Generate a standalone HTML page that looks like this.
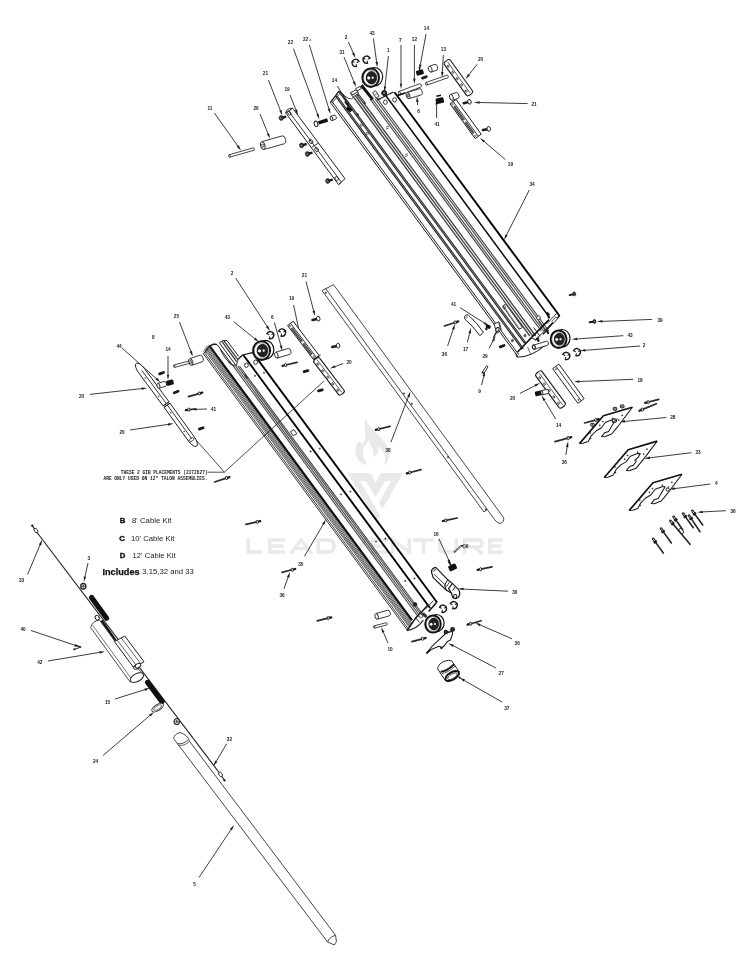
<!DOCTYPE html>
<html><head><meta charset="utf-8"><title>Parts Diagram</title>
<style>
html,body{margin:0;padding:0;background:#fff;}
body{width:750px;height:971px;overflow:hidden;font-family:"Liberation Sans",sans-serif;}
svg{display:block;will-change:transform;font-family:"Liberation Sans",sans-serif;}
</style></head><body>
<svg width="750" height="971" viewBox="0 0 750 971">
<rect width="750" height="971" fill="#fff"/>
<path d="M248.2,538.3 V552.0 H261.5" fill="none" stroke="#e9e9e9" stroke-width="3.4" stroke-linejoin="miter"/>
<path d="M285,540.0 H269.7 V552.0 H285 M269.7,546.0 H283.5" fill="none" stroke="#e9e9e9" stroke-width="3.4" stroke-linejoin="miter"/>
<path d="M290.5,553.7 L301.2,540.0 L312,553.7 M294.5,548.5 H308" fill="none" stroke="#e9e9e9" stroke-width="3.4" stroke-linejoin="miter"/>
<path d="M318.2,540.0 H328 Q334,540.0 334,546.0 Q334,552.0 328,552.0 H318.2 Z" fill="none" stroke="#e9e9e9" stroke-width="3.4" stroke-linejoin="miter"/>
<path d="M345,538.3 L356,552.0 L367,538.3" fill="none" stroke="#e9e9e9" stroke-width="3.4" stroke-linejoin="miter"/>
<path d="M388,540.0 H372.7 V552.0 H388 M372.7,546.0 H386.5" fill="none" stroke="#e9e9e9" stroke-width="3.4" stroke-linejoin="miter"/>
<path d="M392.7,553.7 V540.0 L409.3,552.0 V538.3" fill="none" stroke="#e9e9e9" stroke-width="3.4" stroke-linejoin="miter"/>
<path d="M413,540.0 H434 M423.5,540.0 V553.7" fill="none" stroke="#e9e9e9" stroke-width="3.4" stroke-linejoin="miter"/>
<path d="M439.7,538.3 V548.0 Q439.7,552.0 444,552.0 H452 Q456.3,552.0 456.3,548.0 V538.3" fill="none" stroke="#e9e9e9" stroke-width="3.4" stroke-linejoin="miter"/>
<path d="M464.7,553.7 V540.0 H477 Q482,540.0 482,543.5 Q482,547.0 477,547.0 H464.7 M474,547.0 L482.5,553.7" fill="none" stroke="#e9e9e9" stroke-width="3.4" stroke-linejoin="miter"/>
<path d="M503,540.0 H489.7 V552.0 H503 M489.7,546.0 H501.5" fill="none" stroke="#e9e9e9" stroke-width="3.4" stroke-linejoin="miter"/>
<path d="M364.8,417.5 C368,428 380,434 386,444 C392,454 389,462 384,465 C387,458 384,450 378,446 C380,452 376,457 373,457 C375,450 370,446 369,440 C364,446 361,452 364,458 C366,462 368,464 366,465 C358,463 354,455 356,447 C358,440 361,440 362,445 C368,438 364,428 364.8,417.5 Z" fill="#e9e9e9"/>
<path d="M347.5,473 H370.5 L375.5,482.5 L381,473 H403 L382.5,509 L379,503 L391,481 H385 L375.5,497.5 L366,481 H360 L380,516 L377,521 Z" fill="#e9e9e9"/>
<line x1="331.5" y1="104.0" x2="518.1" y2="356.8" stroke="#1a1a1a" stroke-width="1.0" stroke-linecap="butt"/>
<line x1="332.0" y1="101.5" x2="518.9" y2="354.8" stroke="#222" stroke-width="1.0" stroke-linecap="butt"/>
<line x1="336.2" y1="96.0" x2="522.9" y2="349.0" stroke="#222" stroke-width="2.5" stroke-linecap="butt"/>
<line x1="337.0" y1="97.0" x2="522.2" y2="348.0" stroke="#999" stroke-width="0.8" stroke-linecap="butt"/>
<line x1="339.9" y1="92.0" x2="525.1" y2="343.0" stroke="#222" stroke-width="2.5" stroke-linecap="butt"/>
<line x1="340.6" y1="93.0" x2="524.4" y2="342.0" stroke="#999" stroke-width="0.8" stroke-linecap="butt"/>
<path d="M330.3,103.5 L338.8,91.0 L341.5,92.5" stroke="#222" stroke-width="1.0" fill="none" stroke-linejoin="round"/>
<line x1="350.6" y1="93.0" x2="529.9" y2="336.0" stroke="#444" stroke-width="1.3" stroke-linecap="butt"/>
<line x1="353.5" y1="93.0" x2="532.8" y2="336.0" stroke="#444" stroke-width="1.3" stroke-linecap="butt"/>
<line x1="356.4" y1="93.0" x2="535.7" y2="336.0" stroke="#444" stroke-width="1.3" stroke-linecap="butt"/>
<line x1="370.0" y1="99.0" x2="541.3" y2="331.0" stroke="#444" stroke-width="1.15" stroke-linecap="butt"/>
<line x1="372.3" y1="99.0" x2="543.6" y2="331.0" stroke="#444" stroke-width="1.15" stroke-linecap="butt"/>
<line x1="375.2" y1="99.0" x2="546.5" y2="331.0" stroke="#444" stroke-width="1.15" stroke-linecap="butt"/>
<line x1="377.5" y1="99.0" x2="548.8" y2="331.0" stroke="#444" stroke-width="1.15" stroke-linecap="butt"/>
<line x1="385.7" y1="95.5" x2="549.9" y2="318.0" stroke="#0a0a0a" stroke-width="1.5" stroke-linecap="butt"/>
<line x1="394.5" y1="92.3" x2="559.6" y2="316.0" stroke="#000" stroke-width="1.9" stroke-linecap="butt"/>
<line x1="377.0" y1="100.0" x2="393.5" y2="92.0" stroke="#111" stroke-width="1.1" stroke-linecap="butt"/>
<ellipse cx="385.4" cy="102.2" rx="1.9" ry="2.2" transform="rotate(0 385.4 102.2)" stroke="#222" stroke-width="0.9" fill="none"/>
<ellipse cx="394.6" cy="99.8" rx="1.9" ry="2.2" transform="rotate(0 394.6 99.8)" stroke="#222" stroke-width="0.9" fill="none"/>
<line x1="386.0" y1="127.2" x2="389.0" y2="126.2" stroke="#333" stroke-width="0.7" stroke-linecap="butt"/>
<line x1="386.0" y1="129.0" x2="389.0" y2="128.0" stroke="#333" stroke-width="0.7" stroke-linecap="butt"/>
<line x1="405.0" y1="154.7" x2="408.0" y2="153.7" stroke="#333" stroke-width="0.7" stroke-linecap="butt"/>
<line x1="405.0" y1="156.5" x2="408.0" y2="155.5" stroke="#333" stroke-width="0.7" stroke-linecap="butt"/>
<line x1="202.8" y1="353.0" x2="407.7" y2="630.6" stroke="#222" stroke-width="0.9" stroke-linecap="butt"/>
<line x1="203.5" y1="351.4" x2="408.7" y2="629.4" stroke="#222" stroke-width="0.9" stroke-linecap="butt"/>
<line x1="204.2" y1="349.4" x2="409.7" y2="627.8" stroke="#2a2a2a" stroke-width="0.8" stroke-linecap="butt"/>
<line x1="205.0" y1="348.5" x2="410.2" y2="626.6" stroke="#2a2a2a" stroke-width="0.8" stroke-linecap="butt"/>
<line x1="205.7" y1="347.6" x2="410.7" y2="625.4" stroke="#2a2a2a" stroke-width="0.8" stroke-linecap="butt"/>
<line x1="206.4" y1="346.7" x2="411.2" y2="624.2" stroke="#2a2a2a" stroke-width="0.8" stroke-linecap="butt"/>
<line x1="207.2" y1="345.8" x2="411.8" y2="623.0" stroke="#2a2a2a" stroke-width="0.8" stroke-linecap="butt"/>
<line x1="209.1" y1="345.4" x2="412.0" y2="620.4" stroke="#111" stroke-width="2.3" stroke-linecap="butt"/>
<line x1="233.2" y1="366.0" x2="418.4" y2="617.0" stroke="#444" stroke-width="1.1" stroke-linecap="butt"/>
<line x1="235.4" y1="366.0" x2="420.6" y2="617.0" stroke="#444" stroke-width="1.1" stroke-linecap="butt"/>
<line x1="237.6" y1="366.0" x2="422.8" y2="617.0" stroke="#444" stroke-width="1.1" stroke-linecap="butt"/>
<line x1="239.4" y1="366.0" x2="424.6" y2="617.0" stroke="#444" stroke-width="1.1" stroke-linecap="butt"/>
<line x1="243.3" y1="355.0" x2="430.0" y2="608.0" stroke="#000" stroke-width="1.9" stroke-linecap="butt"/>
<line x1="253.0" y1="353.0" x2="437.1" y2="602.5" stroke="#000" stroke-width="1.9" stroke-linecap="butt"/>
<path d="M322.1,290.6 L484,512 L487.3,509.5" stroke="#333" stroke-width="0.9" fill="none" stroke-linejoin="round"/>
<line x1="325.6" y1="288.6" x2="487.3" y2="509.5" stroke="#333" stroke-width="0.9" stroke-linecap="butt"/>
<path d="M487.3,509.5 L494.5,519.5 Q497,523 500,523.5 Q504.5,522 503.6,517.6 L333.6,284.7 L322.1,290.6" stroke="#333" stroke-width="0.9" fill="none" stroke-linejoin="round"/>
<circle cx="325.8" cy="292.8" r="0.7" stroke="#333" stroke-width="0.6" fill="#333"/>
<circle cx="411.8" cy="403.8" r="0.7" stroke="#333" stroke-width="0.6" fill="#333"/>
<circle cx="404.0" cy="393.5" r="0.7" stroke="#333" stroke-width="0.6" fill="#333"/>
<circle cx="448.0" cy="457.0" r="0.7" stroke="#333" stroke-width="0.6" fill="#333"/>
<circle cx="485.8" cy="509.5" r="0.7" stroke="#333" stroke-width="0.6" fill="#333"/>
<line x1="38.2" y1="534.0" x2="221.0" y2="775.0" stroke="#222" stroke-width="1.15" stroke-linecap="butt"/>
<line x1="32.0" y1="525.4" x2="38.2" y2="534.0" stroke="#222" stroke-width="1.2" stroke-linecap="butt"/>
<ellipse cx="36.0" cy="530.6" rx="1.6" ry="2.4" transform="rotate(-35 36.0 530.6)" stroke="#222" stroke-width="0.9" fill="#fff"/>
<circle cx="32.3" cy="525.6" r="0.9" stroke="#222" stroke-width="0.6" fill="#222"/>
<ellipse cx="83.3" cy="586.3" rx="2.5" ry="2.8" transform="rotate(0 83.3 586.3)" stroke="#222" stroke-width="1.4" fill="#fff"/>
<circle cx="83.3" cy="586.3" r="1.0" stroke="#333" stroke-width="0.6" fill="#666"/>
<line x1="91.6" y1="597.6" x2="106.6" y2="618.2" stroke="#111" stroke-width="5.2" stroke-linecap="round"/>
<ellipse cx="97.2" cy="617.8" rx="1.9" ry="2.5" transform="rotate(-30 97.2 617.8)" stroke="#222" stroke-width="1.0" fill="#fff"/>
<line x1="101.5" y1="620.5" x2="115.5" y2="640.5" stroke="#111" stroke-width="2.6" stroke-linecap="butt"/>
<path d="M99.5,620.2 Q93,620.5 90.6,627.5 L130.6,682.6" stroke="#333" stroke-width="0.9" fill="none" stroke-linejoin="round"/>
<line x1="92.6" y1="625.2" x2="132.6" y2="680.4" stroke="#555" stroke-width="0.8" stroke-linecap="butt"/>
<path d="M99.5,620.2 L116,642" stroke="#333" stroke-width="0.9" fill="none" stroke-linejoin="round"/>
<ellipse cx="137.0" cy="677.6" rx="7.2" ry="3.9" transform="rotate(-28 137.0 677.6)" stroke="#222" stroke-width="1.0" fill="#fff"/>
<line x1="124.0" y1="655.0" x2="142.4" y2="673.2" stroke="#333" stroke-width="0.9" stroke-linecap="butt"/>
<path d="M114.4,641.6 L124.8,636.0 L144.0,661.8 L133.6,667.4 Z" stroke="#222" stroke-width="1.0" fill="#fff" stroke-linejoin="round"/>
<line x1="117.2" y1="640.0" x2="136.6" y2="665.8" stroke="#444" stroke-width="0.8" stroke-linecap="butt"/>
<line x1="121.2" y1="637.8" x2="140.6" y2="663.6" stroke="#444" stroke-width="0.8" stroke-linecap="butt"/>
<ellipse cx="136.6" cy="667.0" rx="3.0" ry="2.0" transform="rotate(-28 136.6 667.0)" stroke="#222" stroke-width="0.9" fill="#fff"/>
<ellipse cx="138.0" cy="665.6" rx="3.0" ry="2.0" transform="rotate(-28 138.0 665.6)" stroke="#222" stroke-width="0.9" fill="#fff"/>
<line x1="147.6" y1="682.4" x2="162.0" y2="701.6" stroke="#111" stroke-width="5.2" stroke-linecap="round"/>
<ellipse cx="157.6" cy="707.6" rx="6.6" ry="3.0" transform="rotate(-32 157.6 707.6)" stroke="#222" stroke-width="0.9" fill="#fff"/>
<ellipse cx="157.6" cy="707.6" rx="4.6" ry="1.7" transform="rotate(-32 157.6 707.6)" stroke="#444" stroke-width="0.7" fill="none"/>
<ellipse cx="176.8" cy="721.6" rx="2.6" ry="3.0" transform="rotate(0 176.8 721.6)" stroke="#333" stroke-width="1.3" fill="#fff"/>
<circle cx="176.8" cy="721.6" r="1.0" stroke="#333" stroke-width="0.8" fill="#666"/>
<ellipse cx="220.6" cy="774.4" rx="1.6" ry="2.4" transform="rotate(-35 220.6 774.4)" stroke="#222" stroke-width="0.9" fill="#fff"/>
<line x1="221.5" y1="776.0" x2="224.3" y2="780.0" stroke="#222" stroke-width="1.2" stroke-linecap="butt"/>
<circle cx="224.5" cy="780.3" r="0.9" stroke="#222" stroke-width="0.6" fill="#222"/>
<path d="M173.6,738.6 Q174.5,733.5 180.2,732.6 Q187.5,734.5 189.6,741.4" stroke="#333" stroke-width="0.9" fill="none" stroke-linejoin="round"/>
<line x1="173.6" y1="738.6" x2="327.6" y2="942.0" stroke="#333" stroke-width="0.9" stroke-linecap="butt"/>
<line x1="189.6" y1="741.4" x2="335.6" y2="935.4" stroke="#333" stroke-width="0.9" stroke-linecap="butt"/>
<path d="M177.2,743.6 Q183,744.8 188.4,739.6" stroke="#333" stroke-width="0.9" fill="none" stroke-linejoin="round"/>
<path d="M178.4,745.2 Q184.2,746.4 189.6,741.4" stroke="#555" stroke-width="0.9" fill="none" stroke-linejoin="round"/>
<path d="M327.6,942.0 Q329.5,936.5 335.6,935.4 L336.4,941.6 L334.4,945.0 Z" stroke="#333" stroke-width="0.9" fill="none" stroke-linejoin="round"/>
<line x1="214.4" y1="113.0" x2="237.8" y2="146.0" stroke="#1a1a1a" stroke-width="0.85" stroke-linecap="butt"/>
<polygon points="241.0,150.6 236.7,146.8 238.8,145.3" fill="#1a1a1a"/>
<text x="0" y="0" transform="translate(210.0,110.0) scale(0.8,1)" font-size="5.9" fill="#1a1a1a" text-anchor="middle" font-weight="bold">11</text>
<line x1="260.0" y1="114.0" x2="267.9" y2="133.4" stroke="#1a1a1a" stroke-width="0.85" stroke-linecap="butt"/>
<polygon points="270.0,138.6 266.7,133.9 269.0,132.9" fill="#1a1a1a"/>
<text x="0" y="0" transform="translate(256.0,110.0) scale(0.8,1)" font-size="5.9" fill="#1a1a1a" text-anchor="middle" font-weight="bold">26</text>
<line x1="268.4" y1="80.0" x2="280.4" y2="110.4" stroke="#1a1a1a" stroke-width="0.85" stroke-linecap="butt"/>
<polygon points="282.4,115.6 279.2,110.8 281.5,109.9" fill="#1a1a1a"/>
<text x="0" y="0" transform="translate(265.4,75.4) scale(0.8,1)" font-size="5.9" fill="#1a1a1a" text-anchor="middle" font-weight="bold">21</text>
<line x1="290.0" y1="95.0" x2="295.9" y2="109.8" stroke="#1a1a1a" stroke-width="0.85" stroke-linecap="butt"/>
<polygon points="298.0,115.0 294.8,110.3 297.1,109.3" fill="#1a1a1a"/>
<text x="0" y="0" transform="translate(287.0,90.8) scale(0.8,1)" font-size="5.9" fill="#1a1a1a" text-anchor="middle" font-weight="bold">19</text>
<line x1="293.4" y1="48.6" x2="317.5" y2="114.1" stroke="#1a1a1a" stroke-width="0.85" stroke-linecap="butt"/>
<polygon points="319.4,119.4 316.3,114.6 318.6,113.7" fill="#1a1a1a"/>
<text x="0" y="0" transform="translate(290.4,44.4) scale(0.8,1)" font-size="5.9" fill="#1a1a1a" text-anchor="middle" font-weight="bold">22</text>
<line x1="309.4" y1="45.0" x2="328.8" y2="108.6" stroke="#1a1a1a" stroke-width="0.85" stroke-linecap="butt"/>
<polygon points="330.4,114.0 327.6,109.0 330.0,108.3" fill="#1a1a1a"/>
<text x="0" y="0" transform="translate(307.0,41.4) scale(0.8,1)" font-size="5.9" fill="#1a1a1a" text-anchor="middle" font-weight="bold">22<tspan font-size="4.4" font-weight="normal"> a</tspan></text>
<line x1="348.4" y1="42.0" x2="353.2" y2="52.9" stroke="#1a1a1a" stroke-width="0.85" stroke-linecap="butt"/>
<polygon points="355.4,58.0 352.0,53.4 354.3,52.4" fill="#1a1a1a"/>
<text x="0" y="0" transform="translate(346.0,39.4) scale(0.8,1)" font-size="5.9" fill="#1a1a1a" text-anchor="middle" font-weight="bold">2</text>
<line x1="373.4" y1="38.4" x2="376.6" y2="61.9" stroke="#1a1a1a" stroke-width="0.85" stroke-linecap="butt"/>
<polygon points="377.4,67.4 375.4,62.0 377.9,61.7" fill="#1a1a1a"/>
<text x="0" y="0" transform="translate(372.0,34.8) scale(0.8,1)" font-size="5.9" fill="#1a1a1a" text-anchor="middle" font-weight="bold">43</text>
<line x1="344.0" y1="57.0" x2="353.9" y2="81.8" stroke="#1a1a1a" stroke-width="0.85" stroke-linecap="butt"/>
<polygon points="356.0,87.0 352.8,82.3 355.1,81.3" fill="#1a1a1a"/>
<text x="0" y="0" transform="translate(342.0,53.8) scale(0.8,1)" font-size="5.9" fill="#1a1a1a" text-anchor="middle" font-weight="bold">31</text>
<line x1="337.4" y1="86.0" x2="347.2" y2="103.1" stroke="#1a1a1a" stroke-width="0.85" stroke-linecap="butt"/>
<polygon points="350.0,108.0 346.1,103.8 348.3,102.5" fill="#1a1a1a"/>
<text x="0" y="0" transform="translate(334.4,82.0) scale(0.8,1)" font-size="5.9" fill="#1a1a1a" text-anchor="middle" font-weight="bold">14</text>
<line x1="388.4" y1="56.0" x2="385.0" y2="86.4" stroke="#1a1a1a" stroke-width="0.85" stroke-linecap="butt"/>
<polygon points="384.4,92.0 383.8,86.3 386.3,86.6" fill="#1a1a1a"/>
<text x="0" y="0" transform="translate(388.4,52.4) scale(0.8,1)" font-size="5.9" fill="#1a1a1a" text-anchor="middle" font-weight="bold">1</text>
<line x1="401.0" y1="45.0" x2="401.0" y2="83.4" stroke="#1a1a1a" stroke-width="0.85" stroke-linecap="butt"/>
<polygon points="401.0,89.0 399.8,83.4 402.2,83.4" fill="#1a1a1a"/>
<text x="0" y="0" transform="translate(400.4,41.8) scale(0.8,1)" font-size="5.9" fill="#1a1a1a" text-anchor="middle" font-weight="bold">7</text>
<line x1="414.4" y1="45.0" x2="414.4" y2="78.4" stroke="#1a1a1a" stroke-width="0.85" stroke-linecap="butt"/>
<polygon points="414.4,84.0 413.1,78.4 415.6,78.4" fill="#1a1a1a"/>
<text x="0" y="0" transform="translate(414.4,40.8) scale(0.8,1)" font-size="5.9" fill="#1a1a1a" text-anchor="middle" font-weight="bold">12</text>
<line x1="426.0" y1="34.0" x2="420.4" y2="64.5" stroke="#1a1a1a" stroke-width="0.85" stroke-linecap="butt"/>
<polygon points="419.4,70.0 419.2,64.3 421.6,64.7" fill="#1a1a1a"/>
<text x="0" y="0" transform="translate(426.4,29.8) scale(0.8,1)" font-size="5.9" fill="#1a1a1a" text-anchor="middle" font-weight="bold">14</text>
<line x1="443.4" y1="55.0" x2="442.3" y2="71.8" stroke="#1a1a1a" stroke-width="0.85" stroke-linecap="butt"/>
<polygon points="442.0,77.4 441.1,71.7 443.6,71.9" fill="#1a1a1a"/>
<text x="0" y="0" transform="translate(443.4,50.8) scale(0.8,1)" font-size="5.9" fill="#1a1a1a" text-anchor="middle" font-weight="bold">13</text>
<line x1="477.0" y1="64.4" x2="469.0" y2="74.6" stroke="#1a1a1a" stroke-width="0.85" stroke-linecap="butt"/>
<polygon points="465.6,79.0 468.1,73.8 470.0,75.4" fill="#1a1a1a"/>
<text x="0" y="0" transform="translate(480.6,60.8) scale(0.8,1)" font-size="5.9" fill="#1a1a1a" text-anchor="middle" font-weight="bold">20</text>
<line x1="417.6" y1="105.0" x2="417.4" y2="102.0" stroke="#1a1a1a" stroke-width="0.85" stroke-linecap="butt"/>
<polygon points="417.0,96.4 418.6,101.9 416.1,102.1" fill="#1a1a1a"/>
<text x="0" y="0" transform="translate(418.6,112.8) scale(0.8,1)" font-size="5.9" fill="#1a1a1a" text-anchor="middle" font-weight="bold">6</text>
<line x1="436.6" y1="118.0" x2="436.6" y2="104.6" stroke="#1a1a1a" stroke-width="0.85" stroke-linecap="butt"/>
<polygon points="436.6,99.0 437.9,104.6 435.4,104.6" fill="#1a1a1a"/>
<text x="0" y="0" transform="translate(437.0,125.8) scale(0.8,1)" font-size="5.9" fill="#1a1a1a" text-anchor="middle" font-weight="bold">41</text>
<line x1="527.6" y1="103.6" x2="479.6" y2="102.5" stroke="#1a1a1a" stroke-width="0.85" stroke-linecap="butt"/>
<polygon points="474.0,102.4 479.6,101.3 479.6,103.8" fill="#1a1a1a"/>
<text x="0" y="0" transform="translate(534.0,106.4) scale(0.8,1)" font-size="5.9" fill="#1a1a1a" text-anchor="middle" font-weight="bold">21</text>
<line x1="505.4" y1="159.6" x2="484.3" y2="141.6" stroke="#1a1a1a" stroke-width="0.85" stroke-linecap="butt"/>
<polygon points="480.0,138.0 485.1,140.7 483.5,142.6" fill="#1a1a1a"/>
<text x="0" y="0" transform="translate(510.4,166.4) scale(0.8,1)" font-size="5.9" fill="#1a1a1a" text-anchor="middle" font-weight="bold">19</text>
<line x1="529.3" y1="190.0" x2="506.5" y2="235.0" stroke="#1a1a1a" stroke-width="0.85" stroke-linecap="butt"/>
<polygon points="504.0,240.0 505.4,234.4 507.6,235.6" fill="#1a1a1a"/>
<text x="0" y="0" transform="translate(532.0,185.8) scale(0.8,1)" font-size="5.9" fill="#1a1a1a" text-anchor="middle" font-weight="bold">34</text>
<line x1="460.0" y1="307.6" x2="484.3" y2="323.0" stroke="#1a1a1a" stroke-width="0.85" stroke-linecap="butt"/>
<polygon points="489.0,326.0 483.6,324.1 484.9,321.9" fill="#1a1a1a"/>
<text x="0" y="0" transform="translate(453.6,306.0) scale(0.8,1)" font-size="5.9" fill="#1a1a1a" text-anchor="middle" font-weight="bold">41</text>
<line x1="447.6" y1="346.0" x2="453.2" y2="329.3" stroke="#1a1a1a" stroke-width="0.85" stroke-linecap="butt"/>
<polygon points="455.0,324.0 454.4,329.7 452.0,328.9" fill="#1a1a1a"/>
<text x="0" y="0" transform="translate(444.4,356.0) scale(0.8,1)" font-size="5.9" fill="#1a1a1a" text-anchor="middle" font-weight="bold">36</text>
<line x1="467.4" y1="342.4" x2="469.6" y2="333.4" stroke="#1a1a1a" stroke-width="0.85" stroke-linecap="butt"/>
<polygon points="471.0,328.0 470.9,333.7 468.4,333.1" fill="#1a1a1a"/>
<text x="0" y="0" transform="translate(465.6,351.4) scale(0.8,1)" font-size="5.9" fill="#1a1a1a" text-anchor="middle" font-weight="bold">17</text>
<line x1="489.0" y1="348.4" x2="493.0" y2="340.9" stroke="#1a1a1a" stroke-width="0.85" stroke-linecap="butt"/>
<polygon points="495.6,336.0 494.1,341.5 491.9,340.4" fill="#1a1a1a"/>
<text x="0" y="0" transform="translate(485.0,358.0) scale(0.8,1)" font-size="5.9" fill="#1a1a1a" text-anchor="middle" font-weight="bold">29</text>
<line x1="481.6" y1="385.0" x2="483.7" y2="376.4" stroke="#1a1a1a" stroke-width="0.85" stroke-linecap="butt"/>
<polygon points="485.0,371.0 484.9,376.7 482.5,376.1" fill="#1a1a1a"/>
<text x="0" y="0" transform="translate(479.6,393.4) scale(0.8,1)" font-size="5.9" fill="#1a1a1a" text-anchor="middle" font-weight="bold">9</text>
<line x1="520.0" y1="393.4" x2="535.0" y2="385.6" stroke="#1a1a1a" stroke-width="0.85" stroke-linecap="butt"/>
<polygon points="540.0,383.0 535.6,386.7 534.5,384.5" fill="#1a1a1a"/>
<text x="0" y="0" transform="translate(512.6,399.8) scale(0.8,1)" font-size="5.9" fill="#1a1a1a" text-anchor="middle" font-weight="bold">20</text>
<line x1="555.6" y1="419.0" x2="544.5" y2="400.4" stroke="#1a1a1a" stroke-width="0.85" stroke-linecap="butt"/>
<polygon points="541.6,395.6 545.5,399.8 543.4,401.0" fill="#1a1a1a"/>
<text x="0" y="0" transform="translate(558.6,427.4) scale(0.8,1)" font-size="5.9" fill="#1a1a1a" text-anchor="middle" font-weight="bold">14</text>
<line x1="652.0" y1="319.4" x2="602.6" y2="321.4" stroke="#1a1a1a" stroke-width="0.85" stroke-linecap="butt"/>
<polygon points="597.0,321.6 602.5,320.1 602.6,322.6" fill="#1a1a1a"/>
<text x="0" y="0" transform="translate(660.0,321.8) scale(0.8,1)" font-size="5.9" fill="#1a1a1a" text-anchor="middle" font-weight="bold">39</text>
<line x1="623.3" y1="335.7" x2="577.3" y2="338.9" stroke="#1a1a1a" stroke-width="0.85" stroke-linecap="butt"/>
<polygon points="571.7,339.3 577.2,337.7 577.4,340.2" fill="#1a1a1a"/>
<text x="0" y="0" transform="translate(630.0,337.4) scale(0.8,1)" font-size="5.9" fill="#1a1a1a" text-anchor="middle" font-weight="bold">43</text>
<line x1="640.0" y1="346.0" x2="585.6" y2="350.3" stroke="#1a1a1a" stroke-width="0.85" stroke-linecap="butt"/>
<polygon points="580.0,350.7 585.5,349.0 585.7,351.5" fill="#1a1a1a"/>
<text x="0" y="0" transform="translate(644.0,347.4) scale(0.8,1)" font-size="5.9" fill="#1a1a1a" text-anchor="middle" font-weight="bold">2</text>
<line x1="633.2" y1="379.3" x2="579.6" y2="381.5" stroke="#1a1a1a" stroke-width="0.85" stroke-linecap="butt"/>
<polygon points="574.0,381.7 579.5,380.2 579.6,382.7" fill="#1a1a1a"/>
<text x="0" y="0" transform="translate(640.0,381.7) scale(0.8,1)" font-size="5.9" fill="#1a1a1a" text-anchor="middle" font-weight="bold">18</text>
<line x1="666.4" y1="417.5" x2="625.1" y2="421.4" stroke="#1a1a1a" stroke-width="0.85" stroke-linecap="butt"/>
<polygon points="619.5,421.9 625.0,420.1 625.2,422.6" fill="#1a1a1a"/>
<text x="0" y="0" transform="translate(672.8,419.3) scale(0.8,1)" font-size="5.9" fill="#1a1a1a" text-anchor="middle" font-weight="bold">28</text>
<line x1="691.3" y1="452.7" x2="650.0" y2="457.8" stroke="#1a1a1a" stroke-width="0.85" stroke-linecap="butt"/>
<polygon points="644.4,458.5 649.8,456.6 650.1,459.1" fill="#1a1a1a"/>
<text x="0" y="0" transform="translate(698.0,454.2) scale(0.8,1)" font-size="5.9" fill="#1a1a1a" text-anchor="middle" font-weight="bold">23</text>
<line x1="710.4" y1="484.0" x2="674.9" y2="488.6" stroke="#1a1a1a" stroke-width="0.85" stroke-linecap="butt"/>
<polygon points="669.3,489.3 674.7,487.3 675.0,489.8" fill="#1a1a1a"/>
<text x="0" y="0" transform="translate(716.2,485.3) scale(0.8,1)" font-size="5.9" fill="#1a1a1a" text-anchor="middle" font-weight="bold">4</text>
<line x1="725.9" y1="510.7" x2="702.8" y2="511.9" stroke="#1a1a1a" stroke-width="0.85" stroke-linecap="butt"/>
<polygon points="697.2,512.2 702.7,510.7 702.9,513.2" fill="#1a1a1a"/>
<text x="0" y="0" transform="translate(733.0,512.5) scale(0.8,1)" font-size="5.9" fill="#1a1a1a" text-anchor="middle" font-weight="bold">36</text>
<line x1="565.8" y1="455.0" x2="567.2" y2="447.0" stroke="#1a1a1a" stroke-width="0.85" stroke-linecap="butt"/>
<polygon points="568.1,441.5 568.4,447.2 565.9,446.8" fill="#1a1a1a"/>
<text x="0" y="0" transform="translate(564.3,463.8) scale(0.8,1)" font-size="5.9" fill="#1a1a1a" text-anchor="middle" font-weight="bold">36</text>
<line x1="235.6" y1="278.0" x2="267.0" y2="326.3" stroke="#1a1a1a" stroke-width="0.85" stroke-linecap="butt"/>
<polygon points="270.0,331.0 265.9,327.0 268.0,325.6" fill="#1a1a1a"/>
<text x="0" y="0" transform="translate(232.0,275.4) scale(0.8,1)" font-size="5.9" fill="#1a1a1a" text-anchor="middle" font-weight="bold">2</text>
<line x1="233.6" y1="321.6" x2="254.6" y2="338.5" stroke="#1a1a1a" stroke-width="0.85" stroke-linecap="butt"/>
<polygon points="259.0,342.0 253.9,339.5 255.4,337.5" fill="#1a1a1a"/>
<text x="0" y="0" transform="translate(227.3,319.1) scale(0.8,1)" font-size="5.9" fill="#1a1a1a" text-anchor="middle" font-weight="bold">43</text>
<line x1="274.4" y1="322.4" x2="280.9" y2="345.6" stroke="#1a1a1a" stroke-width="0.85" stroke-linecap="butt"/>
<polygon points="282.4,351.0 279.7,345.9 282.1,345.3" fill="#1a1a1a"/>
<text x="0" y="0" transform="translate(272.4,319.4) scale(0.8,1)" font-size="5.9" fill="#1a1a1a" text-anchor="middle" font-weight="bold">6</text>
<line x1="293.6" y1="305.0" x2="298.8" y2="329.5" stroke="#1a1a1a" stroke-width="0.85" stroke-linecap="butt"/>
<polygon points="300.0,335.0 297.6,329.8 300.1,329.3" fill="#1a1a1a"/>
<text x="0" y="0" transform="translate(291.6,300.4) scale(0.8,1)" font-size="5.9" fill="#1a1a1a" text-anchor="middle" font-weight="bold">19</text>
<line x1="306.0" y1="281.6" x2="313.6" y2="310.6" stroke="#1a1a1a" stroke-width="0.85" stroke-linecap="butt"/>
<polygon points="315.0,316.0 312.4,310.9 314.8,310.3" fill="#1a1a1a"/>
<text x="0" y="0" transform="translate(304.4,277.4) scale(0.8,1)" font-size="5.9" fill="#1a1a1a" text-anchor="middle" font-weight="bold">21</text>
<line x1="343.0" y1="363.6" x2="335.3" y2="366.5" stroke="#1a1a1a" stroke-width="0.85" stroke-linecap="butt"/>
<polygon points="330.0,368.4 334.8,365.3 335.7,367.6" fill="#1a1a1a"/>
<text x="0" y="0" transform="translate(349.0,364.0) scale(0.8,1)" font-size="5.9" fill="#1a1a1a" text-anchor="middle" font-weight="bold">20</text>
<line x1="179.5" y1="322.0" x2="190.8" y2="351.3" stroke="#1a1a1a" stroke-width="0.85" stroke-linecap="butt"/>
<polygon points="192.8,356.5 189.6,351.7 192.0,350.8" fill="#1a1a1a"/>
<text x="0" y="0" transform="translate(176.4,318.4) scale(0.8,1)" font-size="5.9" fill="#1a1a1a" text-anchor="middle" font-weight="bold">25</text>
<text x="0" y="0" transform="translate(153.4,339.4) scale(0.8,1)" font-size="5.9" fill="#1a1a1a" text-anchor="middle" font-weight="bold">8</text>
<line x1="122.0" y1="348.0" x2="156.2" y2="378.5" stroke="#1a1a1a" stroke-width="0.85" stroke-linecap="butt"/>
<polygon points="160.4,382.2 155.4,379.4 157.0,377.5" fill="#1a1a1a"/>
<text x="0" y="0" transform="translate(119.0,347.8) scale(0.8,1)" font-size="5.9" fill="#1a1a1a" text-anchor="middle" font-weight="bold">44</text>
<line x1="168.0" y1="356.0" x2="168.0" y2="374.4" stroke="#1a1a1a" stroke-width="0.85" stroke-linecap="butt"/>
<polygon points="168.0,380.0 166.8,374.4 169.2,374.4" fill="#1a1a1a"/>
<text x="0" y="0" transform="translate(168.0,351.4) scale(0.8,1)" font-size="5.9" fill="#1a1a1a" text-anchor="middle" font-weight="bold">14</text>
<line x1="207.0" y1="409.0" x2="196.6" y2="409.3" stroke="#1a1a1a" stroke-width="0.85" stroke-linecap="butt"/>
<polygon points="191.0,409.4 196.6,408.0 196.6,410.5" fill="#1a1a1a"/>
<text x="0" y="0" transform="translate(213.4,411.4) scale(0.8,1)" font-size="5.9" fill="#1a1a1a" text-anchor="middle" font-weight="bold">41</text>
<line x1="90.0" y1="394.4" x2="141.4" y2="388.6" stroke="#1a1a1a" stroke-width="0.85" stroke-linecap="butt"/>
<polygon points="147.0,388.0 141.6,389.9 141.3,387.4" fill="#1a1a1a"/>
<text x="0" y="0" transform="translate(81.6,398.0) scale(0.8,1)" font-size="5.9" fill="#1a1a1a" text-anchor="middle" font-weight="bold">20</text>
<line x1="130.0" y1="430.0" x2="168.1" y2="424.4" stroke="#1a1a1a" stroke-width="0.85" stroke-linecap="butt"/>
<polygon points="173.6,423.6 168.2,425.7 167.9,423.2" fill="#1a1a1a"/>
<text x="0" y="0" transform="translate(122.0,433.8) scale(0.8,1)" font-size="5.9" fill="#1a1a1a" text-anchor="middle" font-weight="bold">20</text>
<line x1="391.0" y1="442.0" x2="408.4" y2="396.8" stroke="#1a1a1a" stroke-width="0.85" stroke-linecap="butt"/>
<polygon points="410.4,391.6 409.6,397.3 407.2,396.4" fill="#1a1a1a"/>
<text x="0" y="0" transform="translate(388.0,451.8) scale(0.8,1)" font-size="5.9" fill="#1a1a1a" text-anchor="middle" font-weight="bold">38</text>
<line x1="304.4" y1="556.4" x2="323.2" y2="524.4" stroke="#1a1a1a" stroke-width="0.85" stroke-linecap="butt"/>
<polygon points="326.0,519.6 324.2,525.1 322.1,523.8" fill="#1a1a1a"/>
<text x="0" y="0" transform="translate(300.8,565.6) scale(0.8,1)" font-size="5.9" fill="#1a1a1a" text-anchor="middle" font-weight="bold">35</text>
<line x1="284.0" y1="588.8" x2="288.1" y2="577.3" stroke="#1a1a1a" stroke-width="0.85" stroke-linecap="butt"/>
<polygon points="290.0,572.0 289.3,577.7 286.9,576.9" fill="#1a1a1a"/>
<text x="0" y="0" transform="translate(282.0,597.2) scale(0.8,1)" font-size="5.9" fill="#1a1a1a" text-anchor="middle" font-weight="bold">36</text>
<line x1="439.0" y1="539.0" x2="448.7" y2="559.9" stroke="#1a1a1a" stroke-width="0.85" stroke-linecap="butt"/>
<polygon points="451.0,565.0 447.5,560.4 449.8,559.4" fill="#1a1a1a"/>
<text x="0" y="0" transform="translate(436.0,536.4) scale(0.8,1)" font-size="5.9" fill="#1a1a1a" text-anchor="middle" font-weight="bold">16</text>
<text x="0" y="0" transform="translate(467.0,548.4) scale(0.8,1)" font-size="5.9" fill="#1a1a1a" text-anchor="middle" font-weight="bold">9</text>
<line x1="508.0" y1="591.2" x2="463.6" y2="589.1" stroke="#1a1a1a" stroke-width="0.85" stroke-linecap="butt"/>
<polygon points="458.0,588.8 463.7,587.8 463.5,590.3" fill="#1a1a1a"/>
<text x="0" y="0" transform="translate(514.8,594.4) scale(0.8,1)" font-size="5.9" fill="#1a1a1a" text-anchor="middle" font-weight="bold">30</text>
<line x1="512.0" y1="638.8" x2="480.3" y2="625.0" stroke="#1a1a1a" stroke-width="0.85" stroke-linecap="butt"/>
<polygon points="475.2,622.8 480.8,623.9 479.8,626.2" fill="#1a1a1a"/>
<text x="0" y="0" transform="translate(517.2,645.2) scale(0.8,1)" font-size="5.9" fill="#1a1a1a" text-anchor="middle" font-weight="bold">36</text>
<line x1="496.0" y1="668.0" x2="453.4" y2="645.8" stroke="#1a1a1a" stroke-width="0.85" stroke-linecap="butt"/>
<polygon points="448.4,643.2 453.9,644.7 452.8,646.9" fill="#1a1a1a"/>
<text x="0" y="0" transform="translate(501.2,675.2) scale(0.8,1)" font-size="5.9" fill="#1a1a1a" text-anchor="middle" font-weight="bold">27</text>
<line x1="502.0" y1="702.0" x2="464.5" y2="680.6" stroke="#1a1a1a" stroke-width="0.85" stroke-linecap="butt"/>
<polygon points="459.6,677.8 465.1,679.5 463.8,681.7" fill="#1a1a1a"/>
<text x="0" y="0" transform="translate(506.8,709.6) scale(0.8,1)" font-size="5.9" fill="#1a1a1a" text-anchor="middle" font-weight="bold">37</text>
<line x1="388.0" y1="643.2" x2="383.4" y2="632.4" stroke="#1a1a1a" stroke-width="0.85" stroke-linecap="butt"/>
<polygon points="381.2,627.2 384.5,631.9 382.2,632.8" fill="#1a1a1a"/>
<text x="0" y="0" transform="translate(390.0,651.2) scale(0.8,1)" font-size="5.9" fill="#1a1a1a" text-anchor="middle" font-weight="bold">10</text>
<line x1="27.6" y1="574.4" x2="40.0" y2="545.0" stroke="#1a1a1a" stroke-width="0.85" stroke-linecap="butt"/>
<polygon points="42.2,539.8 41.2,545.4 38.9,544.5" fill="#1a1a1a"/>
<text x="0" y="0" transform="translate(21.6,582.0) scale(0.8,1)" font-size="5.9" fill="#1a1a1a" text-anchor="middle" font-weight="bold">33</text>
<line x1="88.0" y1="563.0" x2="85.0" y2="576.5" stroke="#1a1a1a" stroke-width="0.85" stroke-linecap="butt"/>
<polygon points="83.8,582.0 83.8,576.3 86.2,576.8" fill="#1a1a1a"/>
<text x="0" y="0" transform="translate(88.8,560.1) scale(0.8,1)" font-size="5.9" fill="#1a1a1a" text-anchor="middle" font-weight="bold">3</text>
<line x1="31.0" y1="630.5" x2="74.7" y2="645.2" stroke="#1a1a1a" stroke-width="0.85" stroke-linecap="butt"/>
<polygon points="80.0,647.0 74.3,646.4 75.1,644.0" fill="#1a1a1a"/>
<text x="0" y="0" transform="translate(23.0,630.9) scale(0.8,1)" font-size="5.9" fill="#1a1a1a" text-anchor="middle" font-weight="bold">40</text>
<line x1="48.0" y1="661.0" x2="99.5" y2="652.4" stroke="#1a1a1a" stroke-width="0.85" stroke-linecap="butt"/>
<polygon points="105.0,651.5 99.7,653.7 99.3,651.2" fill="#1a1a1a"/>
<text x="0" y="0" transform="translate(39.8,664.4) scale(0.8,1)" font-size="5.9" fill="#1a1a1a" text-anchor="middle" font-weight="bold">42</text>
<line x1="115.0" y1="699.0" x2="144.7" y2="689.7" stroke="#1a1a1a" stroke-width="0.85" stroke-linecap="butt"/>
<polygon points="150.0,688.0 145.0,690.9 144.3,688.5" fill="#1a1a1a"/>
<text x="0" y="0" transform="translate(107.6,704.0) scale(0.8,1)" font-size="5.9" fill="#1a1a1a" text-anchor="middle" font-weight="bold">15</text>
<line x1="103.0" y1="755.5" x2="149.7" y2="715.6" stroke="#1a1a1a" stroke-width="0.85" stroke-linecap="butt"/>
<polygon points="154.0,712.0 150.6,716.6 148.9,714.7" fill="#1a1a1a"/>
<text x="0" y="0" transform="translate(95.6,763.4) scale(0.8,1)" font-size="5.9" fill="#1a1a1a" text-anchor="middle" font-weight="bold">24</text>
<line x1="226.5" y1="744.0" x2="216.3" y2="761.2" stroke="#1a1a1a" stroke-width="0.85" stroke-linecap="butt"/>
<polygon points="213.5,766.0 215.3,760.5 217.4,761.8" fill="#1a1a1a"/>
<text x="0" y="0" transform="translate(229.4,741.0) scale(0.8,1)" font-size="5.9" fill="#1a1a1a" text-anchor="middle" font-weight="bold">32</text>
<line x1="199.0" y1="877.5" x2="230.9" y2="829.7" stroke="#1a1a1a" stroke-width="0.85" stroke-linecap="butt"/>
<polygon points="234.0,825.0 231.9,830.4 229.9,829.0" fill="#1a1a1a"/>
<text x="0" y="0" transform="translate(194.5,885.9) scale(0.8,1)" font-size="5.9" fill="#1a1a1a" text-anchor="middle" font-weight="bold">5</text>
<text x="120.8" y="474.0" font-size="5.6" fill="#222" textLength="86.8" lengthAdjust="spacingAndGlyphs" font-family="Liberation Mono, monospace" font-weight="bold">THESE 2 GIB PLACEMENTS (2372827)</text>
<text x="103.4" y="479.7" font-size="5.6" fill="#222" textLength="104.2" lengthAdjust="spacingAndGlyphs" font-family="Liberation Mono, monospace" font-weight="bold">ARE ONLY USED ON 12" TALON ASSEMBLIES.</text>
<path d="M207.6,472.2 H224.4" stroke="#222" stroke-width="0.8" fill="none" stroke-linejoin="round"/>
<path d="M196.5,440.5 L224.4,472.2 L324,381" stroke="#222" stroke-width="0.8" fill="none" stroke-linejoin="round"/>
<text x="119.8" y="522.6" font-size="7.8" fill="#111" stroke="#111" stroke-width="0.35" font-weight="bold">B</text>
<text x="132" y="522.6" font-size="7.6" fill="#222" font-weight="normal" textLength="39.5" lengthAdjust="spacingAndGlyphs">8' Cable Kit</text>
<text x="119.2" y="541.0" font-size="7.8" fill="#111" stroke="#111" stroke-width="0.35" font-weight="bold">C</text>
<text x="131" y="541.0" font-size="7.6" fill="#222" font-weight="normal" textLength="43.5" lengthAdjust="spacingAndGlyphs">10' Cable Kit</text>
<text x="119.8" y="558.4" font-size="7.8" fill="#111" stroke="#111" stroke-width="0.35" font-weight="bold">D</text>
<text x="132.6" y="558.4" font-size="7.6" fill="#222" font-weight="normal" textLength="43" lengthAdjust="spacingAndGlyphs">12' Cable Kit</text>
<text x="102.4" y="574.6" font-size="9.7" fill="#111" stroke="#111" stroke-width="0.25" font-weight="bold" textLength="37.2" lengthAdjust="spacingAndGlyphs">Includes</text>
<text x="142.2" y="574.4" font-size="7.6" fill="#222" font-weight="normal" textLength="51.6" lengthAdjust="spacingAndGlyphs">3,15,32 and 33</text>
<path d="M229.8,157.2 L254.2,150.2 A0.8,1.3 -16.0 0 0 253.4,147.8 L229.0,154.8" stroke="#333" stroke-width="0.9" fill="#fff" stroke-linejoin="round"/>
<ellipse cx="229.4" cy="156.0" rx="0.78" ry="1.3" transform="rotate(-16.00740429609984 229.4 156.0)" stroke="#333" stroke-width="0.9" fill="#fff"/>
<path d="M263.9,149.5 L284.5,143.7 A2.2,4.0 -15.7 0 0 282.3,135.9 L261.7,141.7" stroke="#222" stroke-width="0.9" fill="#fff" stroke-linejoin="round"/>
<ellipse cx="262.8" cy="145.6" rx="2.2" ry="4.0" transform="rotate(-15.724745722747405 262.8 145.6)" stroke="#222" stroke-width="0.9" fill="#fff"/>
<ellipse cx="262.8" cy="145.6" rx="0.9900000000000001" ry="1.8" transform="rotate(-15.724745722747405 262.8 145.6)" stroke="#222" stroke-width="0.7200000000000001" fill="#fff"/>
<path d="M285.7,112.9 L292.7,108.3 L345.0,178.7 L338.6,184.6 Z" stroke="#222" stroke-width="1.0" fill="#fff" stroke-linejoin="round"/>
<line x1="288.6" y1="111.0" x2="341.4" y2="182.2" stroke="#222" stroke-width="0.9" stroke-linecap="butt"/>
<path d="M285.7,112.9 Q285.6,109.6 289.4,108.6 L292.7,108.3" stroke="#222" stroke-width="0.9" fill="none" stroke-linejoin="round"/>
<ellipse cx="289.4" cy="113.2" rx="1.5" ry="2.0" transform="rotate(-35 289.4 113.2)" stroke="#222" stroke-width="0.9" fill="none"/>
<ellipse cx="311.0" cy="141.6" rx="1.7" ry="2.1" transform="rotate(-35 311.0 141.6)" stroke="#222" stroke-width="0.9" fill="none"/>
<ellipse cx="316.6" cy="149.6" rx="1.7" ry="2.1" transform="rotate(-35 316.6 149.6)" stroke="#222" stroke-width="0.9" fill="none"/>
<line x1="311.4" y1="147.4" x2="318.6" y2="143.0" stroke="#222" stroke-width="0.9" stroke-linecap="butt"/>
<ellipse cx="336.6" cy="178.6" rx="1.6" ry="2.0" transform="rotate(-35 336.6 178.6)" stroke="#222" stroke-width="0.9" fill="none"/>
<line x1="338.6" y1="184.6" x2="341.4" y2="182.2" stroke="#222" stroke-width="0.9" stroke-linecap="butt"/>
<line x1="281.2" y1="118.0" x2="286.3" y2="116.6" stroke="#1a1a1a" stroke-width="2.4699999999999998" stroke-linecap="butt"/>
<ellipse cx="281.2" cy="118.0" rx="2.09" ry="2.375" transform="rotate(-15 281.2 118.0)" stroke="#111" stroke-width="0.6" fill="#333"/>
<circle cx="280.8" cy="118.1" r="0.6649999999999999" stroke="#888" stroke-width="0.3" fill="#999"/>
<line x1="301.6" y1="145.4" x2="306.7" y2="144.0" stroke="#1a1a1a" stroke-width="2.4699999999999998" stroke-linecap="butt"/>
<ellipse cx="301.6" cy="145.4" rx="2.09" ry="2.375" transform="rotate(-15 301.6 145.4)" stroke="#111" stroke-width="0.6" fill="#333"/>
<circle cx="301.2" cy="145.5" r="0.6649999999999999" stroke="#888" stroke-width="0.3" fill="#999"/>
<line x1="307.4" y1="154.0" x2="312.5" y2="152.6" stroke="#1a1a1a" stroke-width="2.4699999999999998" stroke-linecap="butt"/>
<ellipse cx="307.4" cy="154.0" rx="2.09" ry="2.375" transform="rotate(-15 307.4 154.0)" stroke="#111" stroke-width="0.6" fill="#333"/>
<circle cx="307.0" cy="154.1" r="0.6649999999999999" stroke="#888" stroke-width="0.3" fill="#999"/>
<line x1="327.7" y1="181.0" x2="332.8" y2="179.6" stroke="#1a1a1a" stroke-width="2.4699999999999998" stroke-linecap="butt"/>
<ellipse cx="327.7" cy="181.0" rx="2.09" ry="2.375" transform="rotate(-15 327.7 181.0)" stroke="#111" stroke-width="0.6" fill="#333"/>
<circle cx="327.3" cy="181.1" r="0.6649999999999999" stroke="#888" stroke-width="0.3" fill="#999"/>
<line x1="318.4" y1="122.8" x2="327.6" y2="120.0" stroke="#111" stroke-width="3.5" stroke-linecap="butt"/>
<ellipse cx="316.0" cy="123.8" rx="1.8" ry="2.7" transform="rotate(-15 316.0 123.8)" stroke="#222" stroke-width="1.0" fill="#fff"/>
<path d="M332.1,120.5 L335.7,119.3 A1.2,2.2 -18.4 0 0 334.3,115.1 L330.7,116.3" stroke="#222" stroke-width="0.9" fill="#fff" stroke-linejoin="round"/>
<ellipse cx="331.4" cy="118.4" rx="1.2100000000000002" ry="2.2" transform="rotate(-18.434948822921942 331.4 118.4)" stroke="#222" stroke-width="0.9" fill="#fff"/>
<g transform="translate(355.7,63.0) rotate(25)"><path d="M2.23,-2.81 A3.60,3.60 0 1 0 2.23,2.81" fill="none" stroke="#1a1a1a" stroke-width="1.4" stroke-linecap="round"/><path d="M2.23,-2.81 L1.08,-1.15 M2.23,2.81 L1.08,1.15 M-3.60,0 L-1.98,0" fill="none" stroke="#1a1a1a" stroke-width="1.1" stroke-linecap="round"/></g>
<g transform="translate(366.7,59.7) rotate(25)"><path d="M2.23,-2.81 A3.60,3.60 0 1 0 2.23,2.81" fill="none" stroke="#1a1a1a" stroke-width="1.4" stroke-linecap="round"/><path d="M2.23,-2.81 L1.08,-1.15 M2.23,2.81 L1.08,1.15 M-3.60,0 L-1.98,0" fill="none" stroke="#1a1a1a" stroke-width="1.1" stroke-linecap="round"/></g>
<ellipse cx="374.4" cy="76.8" rx="8.28" ry="9.2" transform="rotate(0 374.4 76.8)" stroke="#111" stroke-width="1.2" fill="#fff"/>
<ellipse cx="370.7" cy="77.7" rx="8.28" ry="9.2" transform="rotate(0 370.7 77.7)" stroke="#111" stroke-width="2.0" fill="#fff"/>
<ellipse cx="371.4" cy="77.7" rx="5.152" ry="6.072" transform="rotate(0 371.4 77.7)" stroke="#111" stroke-width="1.0" fill="#222"/>
<ellipse cx="370.2" cy="77.7" rx="6.715999999999999" ry="7.635999999999999" transform="rotate(0 370.2 77.7)" stroke="#555" stroke-width="0.6" fill="none"/>
<circle cx="368.7" cy="78.0" r="1.38" stroke="#fff" stroke-width="0.3" fill="#fff"/>
<circle cx="372.7" cy="77.7" r="1.012" stroke="#fff" stroke-width="0.3" fill="#eee"/>
<circle cx="384.2" cy="93.0" r="2.5" stroke="#111" stroke-width="1.0" fill="#222"/>
<circle cx="384.2" cy="93.0" r="0.8" stroke="#999" stroke-width="0.5" fill="#999"/>
<path d="M400.0,94.9 L420.8,87.1 A1.1,1.8 -20.6 0 0 419.6,83.7 L398.8,91.5" stroke="#333" stroke-width="0.9" fill="#fff" stroke-linejoin="round"/>
<ellipse cx="399.4" cy="93.2" rx="1.08" ry="1.8" transform="rotate(-20.556045219583446 399.4 93.2)" stroke="#333" stroke-width="0.9" fill="#fff"/>
<line x1="397.5" y1="95.6" x2="405.0" y2="93.0" stroke="#111" stroke-width="1.6" stroke-linecap="butt"/>
<path d="M408.9,98.7 L421.3,94.9 A1.8,3.2 -17.0 0 0 419.5,88.7 L407.1,92.5" stroke="#222" stroke-width="0.9" fill="#fff" stroke-linejoin="round"/>
<ellipse cx="408.0" cy="95.6" rx="1.7600000000000002" ry="3.2" transform="rotate(-17.037767795625655 408.0 95.6)" stroke="#222" stroke-width="0.9" fill="#fff"/>
<ellipse cx="408.0" cy="95.6" rx="0.7920000000000001" ry="1.4400000000000002" transform="rotate(-17.037767795625655 408.0 95.6)" stroke="#222" stroke-width="0.7200000000000001" fill="#fff"/>
<rect x="-3.7" y="-2.5" width="7.4" height="5.0" rx="1.2" transform="translate(419.9,72.5) rotate(-15)" fill="#111"/>
<line x1="419.4" y1="66.8" x2="419.8" y2="70.5" stroke="#111" stroke-width="1.4" stroke-linecap="butt"/>
<line x1="422.5" y1="78.1" x2="426.3" y2="76.7" stroke="#1a1a1a" stroke-width="2.8" stroke-linecap="round"/>
<path d="M431.2,72.1 L437.0,70.1 A1.7,3.1 -19.0 0 0 435.0,64.3 L429.2,66.3" stroke="#222" stroke-width="0.9" fill="#fff" stroke-linejoin="round"/>
<ellipse cx="430.2" cy="69.2" rx="1.7050000000000003" ry="3.1" transform="rotate(-19.02560603756865 430.2 69.2)" stroke="#222" stroke-width="0.9" fill="#fff"/>
<path d="M426.9,85.1 L448.1,77.7 A0.8,1.4 -19.2 0 0 447.1,75.1 L425.9,82.5" stroke="#333" stroke-width="0.9" fill="#fff" stroke-linejoin="round"/>
<ellipse cx="426.4" cy="83.8" rx="0.84" ry="1.4" transform="rotate(-19.241878278024327 426.4 83.8)" stroke="#333" stroke-width="0.9" fill="#fff"/>
<path d="M444.2,64.4 L466.6,95.4 A1.7,3.7 54.1 0 0 472.6,91.0 L450.2,60.0 A1.7,3.7 54.1 0 0 444.2,64.4 Z" stroke="#1a1a1a" stroke-width="1.1" fill="#fff" stroke-linejoin="round"/>
<line x1="447.6" y1="61.9" x2="470.0" y2="92.9" stroke="#333" stroke-width="0.8" stroke-linecap="butt"/>
<ellipse cx="448.2" cy="66.2" rx="1.15" ry="0.85" transform="rotate(54.1488529857938 448.2 66.2)" stroke="#222" stroke-width="0.8" fill="none"/>
<ellipse cx="452.7" cy="72.4" rx="1.15" ry="0.85" transform="rotate(54.1488529857938 452.7 72.4)" stroke="#222" stroke-width="0.8" fill="none"/>
<ellipse cx="457.1" cy="78.6" rx="1.15" ry="0.85" transform="rotate(54.1488529857938 457.1 78.6)" stroke="#222" stroke-width="0.8" fill="none"/>
<ellipse cx="461.6" cy="84.8" rx="1.15" ry="0.85" transform="rotate(54.1488529857938 461.6 84.8)" stroke="#222" stroke-width="0.8" fill="none"/>
<ellipse cx="466.1" cy="91.0" rx="1.15" ry="0.85" transform="rotate(54.1488529857938 466.1 91.0)" stroke="#222" stroke-width="0.8" fill="none"/>
<rect x="-4.0" y="-2.8" width="8.0" height="5.6" rx="1.2" transform="translate(439.8,100.6) rotate(-12)" fill="#111"/>
<line x1="436.4" y1="96.2" x2="441.0" y2="95.2" stroke="#111" stroke-width="1.4" stroke-linecap="butt"/>
<path d="M452.4,100.3 L458.4,98.3 A1.7,3.1 -18.4 0 0 456.4,92.5 L450.4,94.5" stroke="#222" stroke-width="0.9" fill="#fff" stroke-linejoin="round"/>
<ellipse cx="451.4" cy="97.4" rx="1.7050000000000003" ry="3.1" transform="rotate(-18.43494882292201 451.4 97.4)" stroke="#222" stroke-width="0.9" fill="#fff"/>
<line x1="463.7" y1="103.3" x2="468.2" y2="102.1" stroke="#1a1a1a" stroke-width="2.5" stroke-linecap="round"/>
<ellipse cx="469.5" cy="101.8" rx="1.7" ry="2.4" transform="rotate(-15 469.5 101.8)" stroke="#1a1a1a" stroke-width="0.9" fill="#fff"/>
<path d="M450.0,103.8 L475.2,138.6 L481.2,134.2 L456.0,99.4 Z" stroke="#1a1a1a" stroke-width="1.0" fill="#fff" stroke-linejoin="round"/>
<line x1="453.1" y1="101.5" x2="478.3" y2="136.3" stroke="#222" stroke-width="0.9" stroke-linecap="butt"/>
<line x1="454.0" y1="106.2" x2="464.0" y2="120.1" stroke="#2a2a2a" stroke-width="2.2" stroke-linecap="butt"/>
<line x1="454.0" y1="106.2" x2="464.0" y2="120.1" stroke="#aaa" stroke-width="0.6" stroke-linecap="butt"/>
<line x1="465.3" y1="121.9" x2="473.6" y2="133.4" stroke="#2a2a2a" stroke-width="2.2" stroke-linecap="butt"/>
<line x1="465.3" y1="121.9" x2="473.6" y2="133.4" stroke="#aaa" stroke-width="0.6" stroke-linecap="butt"/>
<circle cx="452.5" cy="104.1" r="0.8" stroke="#222" stroke-width="0.6" fill="none"/>
<circle cx="475.4" cy="135.7" r="0.8" stroke="#222" stroke-width="0.6" fill="none"/>
<line x1="482.9" y1="130.1" x2="487.4" y2="129.2" stroke="#1a1a1a" stroke-width="2.5" stroke-linecap="round"/>
<ellipse cx="488.7" cy="128.9" rx="1.7" ry="2.4" transform="rotate(-12 488.7 128.9)" stroke="#1a1a1a" stroke-width="0.9" fill="#fff"/>
<path d="M330.2,102.6 L339.0,91.4" stroke="#222" stroke-width="1.1" fill="none" stroke-linejoin="round"/>
<path d="M331.6,104.0 L340.4,92.6" stroke="#444" stroke-width="0.8" fill="none" stroke-linejoin="round"/>
<path d="M341,92 Q345,97 349,98.6 Q352,99.4 353.4,97.6" stroke="#333" stroke-width="0.9" fill="none" stroke-linejoin="round"/>
<rect x="-3.0" y="-1.9" width="6.0" height="3.8" rx="1.2" transform="translate(349.2,109.2) rotate(35)" fill="#111"/>
<line x1="344.8" y1="101.5" x2="349.0" y2="107.0" stroke="#222" stroke-width="1.6" stroke-linecap="butt"/>
<path d="M356.0,114.0 L358.0,113.2 L358.6,115.2 L356.6,116.0 Z" stroke="#333" stroke-width="0.7" fill="none" stroke-linejoin="round"/>
<path d="M360.0,124.6 L362.0,123.8 L362.6,125.8 L360.6,126.6 Z" stroke="#333" stroke-width="0.7" fill="none" stroke-linejoin="round"/>
<path d="M366.0,132.8 L368.0,132.0 L368.6,134.0 L366.6,134.8 Z" stroke="#333" stroke-width="0.7" fill="none" stroke-linejoin="round"/>
<path d="M350.6,92.6 L356.6,89.6 L358.0,92.0 L352.0,95.2 Z" stroke="#222" stroke-width="0.9" fill="#fff" stroke-linejoin="round"/>
<path d="M352.0,95.2 L358.0,92.0 L358.6,93.6 L352.8,96.8 Z" stroke="#333" stroke-width="0.8" fill="#fff" stroke-linejoin="round"/>
<path d="M355.6,88.6 L360.2,86.4 L361.4,88.6 L356.8,91.0 Z" stroke="#222" stroke-width="0.9" fill="#fff" stroke-linejoin="round"/>
<line x1="361.4" y1="85.2" x2="372.6" y2="99.4" stroke="#111" stroke-width="3.0" stroke-linecap="butt"/>
<line x1="357.2" y1="94.0" x2="365.2" y2="104.0" stroke="#333" stroke-width="2.6" stroke-linecap="butt"/>
<line x1="358.6" y1="95.8" x2="364.0" y2="102.6" stroke="#bbb" stroke-width="0.7" stroke-linecap="butt"/>
<path d="M372.6,92.6 L375.6,90.8 L379.2,96.2 L376.0,98.2 Z" stroke="#222" stroke-width="0.9" fill="#fff" stroke-linejoin="round"/>
<circle cx="375.8" cy="94.4" r="0.7" stroke="#333" stroke-width="0.5" fill="none"/>
<line x1="376.0" y1="98.2" x2="380.5" y2="99.5" stroke="#333" stroke-width="0.9" stroke-linecap="butt"/>
<path d="M559.4,316.0 L549.6,326.6 L543.0,334.4" stroke="#111" stroke-width="1.4" fill="none" stroke-linejoin="round"/>
<path d="M556.4,313.6 L546.4,324.2" stroke="#222" stroke-width="0.9" fill="none" stroke-linejoin="round"/>
<path d="M551.6,321.6 L555.8,317.2 L557.6,318.6 L553.4,323.2 Z" stroke="#333" stroke-width="0.8" fill="#fff" stroke-linejoin="round"/>
<circle cx="548.2" cy="314.6" r="1.3" stroke="#111" stroke-width="0.6" fill="#111"/>
<line x1="547.4" y1="312.0" x2="548.6" y2="318.4" stroke="#111" stroke-width="1.4" stroke-linecap="butt"/>
<path d="M549.0,319.6 L531.4,337.6 L517.6,352.0" stroke="#111" stroke-width="1.6" fill="none" stroke-linejoin="round"/>
<path d="M552.4,322.6 L535.0,340.6" stroke="#222" stroke-width="1.0" fill="none" stroke-linejoin="round"/>
<path d="M545.6,330.6 L538.6,321.6" stroke="#222" stroke-width="1.0" fill="none" stroke-linejoin="round"/>
<path d="M540.2,336.4 L533.6,327.4" stroke="#222" stroke-width="1.0" fill="none" stroke-linejoin="round"/>
<path d="M536.2,340.2 L531.4,337.6" stroke="#222" stroke-width="1.0" fill="none" stroke-linejoin="round"/>
<ellipse cx="538.4" cy="317.8" rx="1.8" ry="2.1" transform="rotate(0 538.4 317.8)" stroke="#222" stroke-width="0.9" fill="#fff"/>
<path d="M502.6,306.0 L505.8,304.0 L522.4,327.4 L519.0,329.4 Z" stroke="#222" stroke-width="0.9" fill="#fff" stroke-linejoin="round"/>
<line x1="504.2" y1="307.0" x2="520.0" y2="329.0" stroke="#666" stroke-width="0.8" stroke-linecap="butt"/>
<ellipse cx="504.4" cy="307.4" rx="1.3" ry="1.5" transform="rotate(0 504.4 307.4)" stroke="#333" stroke-width="0.8" fill="none"/>
<ellipse cx="525.0" cy="335.6" rx="1.0" ry="1.2" transform="rotate(0 525.0 335.6)" stroke="#333" stroke-width="0.8" fill="#666"/>
<ellipse cx="512.4" cy="340.6" rx="1.0" ry="1.2" transform="rotate(0 512.4 340.6)" stroke="#333" stroke-width="0.8" fill="#666"/>
<ellipse cx="538.0" cy="338.0" rx="0.9" ry="1.0" transform="rotate(0 538.0 338.0)" stroke="#333" stroke-width="0.8" fill="#666"/>
<path d="M517.0,357.0 Q531.5,357.5 545.8,344.6" stroke="#222" stroke-width="1.1" fill="none" stroke-linejoin="round"/>
<path d="M517.0,357.0 L516.0,353.6" stroke="#222" stroke-width="1.1" fill="none" stroke-linejoin="round"/>
<line x1="527.6" y1="347.0" x2="530.4" y2="353.6" stroke="#333" stroke-width="0.8" stroke-linecap="butt"/>
<line x1="536.6" y1="338.0" x2="539.0" y2="341.6" stroke="#111" stroke-width="2.2" stroke-linecap="butt"/>
<line x1="546.4" y1="330.4" x2="548.6" y2="333.6" stroke="#111" stroke-width="2.0" stroke-linecap="butt"/>
<path d="M534.4,349.2 L547.8,345.2 A1.3,2.1 -16.6 0 0 546.6,341.2 L533.2,345.2" stroke="#222" stroke-width="0.9" fill="#fff" stroke-linejoin="round"/>
<ellipse cx="533.8" cy="347.2" rx="1.26" ry="2.1" transform="rotate(-16.620756913891952 533.8 347.2)" stroke="#222" stroke-width="0.9" fill="#fff"/>
<ellipse cx="533.8" cy="347.2" rx="1.4" ry="2.1" transform="rotate(-17 533.8 347.2)" stroke="#222" stroke-width="1.2" fill="#fff"/>
<line x1="455.0" y1="322.5" x2="444.4" y2="326.0" stroke="#2a2a2a" stroke-width="1.7" stroke-linecap="round"/>
<line x1="458.2" y1="321.4" x2="455.0" y2="322.5" stroke="#1a1a1a" stroke-width="2.3" stroke-linecap="round"/>
<ellipse cx="455.3" cy="322.4" rx="1.0" ry="1.7" transform="rotate(161.80083494695458 455.3 322.4)" stroke="#1a1a1a" stroke-width="0.8" fill="#fff"/>
<path d="M464.8,319.0 Q463.6,315.6 466.4,314.8 Q468.6,314.6 470.0,316.6 Q477.5,323.5 483.4,332.4 L479.8,335.6 Q473.5,326.5 464.8,319.0 Z" stroke="#222" stroke-width="1.0" fill="#fff" stroke-linejoin="round"/>
<circle cx="466.8" cy="317.2" r="0.7" stroke="#333" stroke-width="0.5" fill="none"/>
<rect x="-2.5" y="-1.8" width="5.0" height="3.6" rx="1.2" transform="translate(488.2,326.6) rotate(25)" fill="#111"/>
<circle cx="486.4" cy="329.0" r="1.0" stroke="#111" stroke-width="0.5" fill="#111"/>
<path d="M494.0,324.0 L498.6,321.8 L500.6,330.0 L497.0,333.4 Z" stroke="#222" stroke-width="0.9" fill="#fff" stroke-linejoin="round"/>
<ellipse cx="497.4" cy="329.4" rx="2.2" ry="1.4" transform="rotate(-50 497.4 329.4)" stroke="#222" stroke-width="1.1" fill="#fff"/>
<line x1="496.6" y1="331.6" x2="493.2" y2="338.0" stroke="#222" stroke-width="1.3" stroke-linecap="butt"/>
<line x1="499.4" y1="322.0" x2="501.4" y2="330.4" stroke="#333" stroke-width="0.8" stroke-linecap="butt"/>
<line x1="500.3" y1="346.9" x2="504.1" y2="345.5" stroke="#1a1a1a" stroke-width="2.8" stroke-linecap="round"/>
<path d="M482.0,372.4 L486.6,365.8 L488.0,366.8 L484.0,373.4 Z" stroke="#222" stroke-width="0.9" fill="#fff" stroke-linejoin="round"/>
<circle cx="483.0" cy="372.6" r="0.8" stroke="#222" stroke-width="0.5" fill="#222"/>
<ellipse cx="562.1" cy="338.3" rx="7.920000000000001" ry="8.8" transform="rotate(0 562.1 338.3)" stroke="#111" stroke-width="1.2" fill="#fff"/>
<ellipse cx="558.6" cy="339.2" rx="7.920000000000001" ry="8.8" transform="rotate(0 558.6 339.2)" stroke="#111" stroke-width="2.0" fill="#fff"/>
<ellipse cx="559.3" cy="339.2" rx="4.928000000000001" ry="5.808000000000001" transform="rotate(0 559.3 339.2)" stroke="#111" stroke-width="1.0" fill="#222"/>
<ellipse cx="558.2" cy="339.2" rx="6.424" ry="7.304" transform="rotate(0 558.2 339.2)" stroke="#555" stroke-width="0.6" fill="none"/>
<circle cx="556.7" cy="339.5" r="1.32" stroke="#fff" stroke-width="0.3" fill="#fff"/>
<circle cx="560.5" cy="339.2" r="0.9680000000000001" stroke="#fff" stroke-width="0.3" fill="#eee"/>
<g transform="translate(566.2,356.0) rotate(155)"><path d="M2.23,-2.81 A3.60,3.60 0 1 0 2.23,2.81" fill="none" stroke="#1a1a1a" stroke-width="1.4" stroke-linecap="round"/><path d="M2.23,-2.81 L1.08,-1.15 M2.23,2.81 L1.08,1.15 M-3.60,0 L-1.98,0" fill="none" stroke="#1a1a1a" stroke-width="1.1" stroke-linecap="round"/></g>
<g transform="translate(576.8,352.2) rotate(155)"><path d="M2.23,-2.81 A3.60,3.60 0 1 0 2.23,2.81" fill="none" stroke="#1a1a1a" stroke-width="1.4" stroke-linecap="round"/><path d="M2.23,-2.81 L1.08,-1.15 M2.23,2.81 L1.08,1.15 M-3.60,0 L-1.98,0" fill="none" stroke="#1a1a1a" stroke-width="1.1" stroke-linecap="round"/></g>
<line x1="569.6" y1="295.1" x2="573.2" y2="294.2" stroke="#1a1a1a" stroke-width="2.0" stroke-linecap="round"/>
<ellipse cx="574.3" cy="293.9" rx="1.36" ry="1.92" transform="rotate(-15 574.3 293.9)" stroke="#1a1a1a" stroke-width="0.9" fill="#555"/>
<line x1="589.7" y1="322.2" x2="593.4" y2="321.7" stroke="#1a1a1a" stroke-width="2.0" stroke-linecap="round"/>
<ellipse cx="594.5" cy="321.5" rx="1.36" ry="1.92" transform="rotate(-8 594.5 321.5)" stroke="#1a1a1a" stroke-width="0.9" fill="#555"/>
<path d="M535.7,375.9 L559.1,407.7 A1.7,3.8 53.7 0 0 565.3,403.1 L541.9,371.3 A1.7,3.8 53.7 0 0 535.7,375.9 Z" stroke="#1a1a1a" stroke-width="1.1" fill="#fff" stroke-linejoin="round"/>
<line x1="539.3" y1="373.3" x2="562.7" y2="405.1" stroke="#333" stroke-width="0.8" stroke-linecap="butt"/>
<ellipse cx="539.9" cy="377.7" rx="1.15" ry="0.85" transform="rotate(53.65254179111458 539.9 377.7)" stroke="#222" stroke-width="0.8" fill="none"/>
<ellipse cx="544.5" cy="384.1" rx="1.15" ry="0.85" transform="rotate(53.65254179111458 544.5 384.1)" stroke="#222" stroke-width="0.8" fill="none"/>
<ellipse cx="549.2" cy="390.4" rx="1.15" ry="0.85" transform="rotate(53.65254179111458 549.2 390.4)" stroke="#222" stroke-width="0.8" fill="none"/>
<ellipse cx="553.9" cy="396.8" rx="1.15" ry="0.85" transform="rotate(53.65254179111458 553.9 396.8)" stroke="#222" stroke-width="0.8" fill="none"/>
<ellipse cx="558.6" cy="403.2" rx="1.15" ry="0.85" transform="rotate(53.65254179111458 558.6 403.2)" stroke="#222" stroke-width="0.8" fill="none"/>
<path d="M542.1,394.9 L548.1,393.5 A1.2,2.2 -13.1 0 0 547.1,389.3 L541.1,390.7" stroke="#222" stroke-width="0.9" fill="#fff" stroke-linejoin="round"/>
<ellipse cx="541.6" cy="392.8" rx="1.2100000000000002" ry="2.2" transform="rotate(-13.134022306396632 541.6 392.8)" stroke="#222" stroke-width="0.9" fill="#fff"/>
<rect x="-3.2" y="-2.4" width="6.4" height="4.8" rx="1.2" transform="translate(538.2,393.4) rotate(-12)" fill="#111"/>
<path d="M552.7,368.7 L577.9,403.3 L584.1,398.7 L558.9,364.1 Z" stroke="#222" stroke-width="1.0" fill="#fff" stroke-linejoin="round"/>
<line x1="556.0" y1="366.3" x2="581.2" y2="400.9" stroke="#222" stroke-width="0.9" stroke-linecap="butt"/>
<circle cx="556.1" cy="369.2" r="0.6" stroke="#333" stroke-width="0.5" fill="#333"/>
<circle cx="578.4" cy="399.8" r="0.6" stroke="#333" stroke-width="0.5" fill="#333"/>
<path d="M204.8,352.6 L209.0,346.6 Q212.5,343.6 216.8,344.6" stroke="#222" stroke-width="1.1" fill="none" stroke-linejoin="round"/>
<path d="M209.0,346.6 L213.2,352.2" stroke="#444" stroke-width="0.8" fill="none" stroke-linejoin="round"/>
<path d="M209.6,346.2 Q212.8,342.6 217.0,344.4 L232.0,364.6" stroke="#222" stroke-width="1.0" fill="none" stroke-linejoin="round"/>
<path d="M219.4,342.8 Q222.6,339.4 227.0,340.6 L238.6,356.4" stroke="#222" stroke-width="1.0" fill="none" stroke-linejoin="round"/>
<path d="M219.4,342.8 L235.6,365.0 Q232.0,366.6 228.6,362.0" stroke="#222" stroke-width="1.0" fill="none" stroke-linejoin="round"/>
<line x1="222.0" y1="341.6" x2="236.6" y2="361.6" stroke="#333" stroke-width="1.2" stroke-linecap="butt"/>
<line x1="224.0" y1="340.8" x2="237.8" y2="359.6" stroke="#333" stroke-width="1.2" stroke-linecap="butt"/>
<path d="M220.4,349.6 Q226,362 234.6,366.0" stroke="#222" stroke-width="1.0" fill="none" stroke-linejoin="round"/>
<path d="M238.4,359.0 L242.6,355.0 L252.4,352.6" stroke="#111" stroke-width="1.2" fill="none" stroke-linejoin="round"/>
<path d="M252.4,352.6 L257.2,347.0" stroke="#222" stroke-width="1.0" fill="none" stroke-linejoin="round"/>
<path d="M238.4,359.0 L236.0,366.5" stroke="#222" stroke-width="0.9" fill="none" stroke-linejoin="round"/>
<ellipse cx="246.4" cy="365.2" rx="1.9" ry="2.2" transform="rotate(0 246.4 365.2)" stroke="#222" stroke-width="0.9" fill="#fff"/>
<ellipse cx="255.6" cy="362.2" rx="1.9" ry="2.2" transform="rotate(0 255.6 362.2)" stroke="#222" stroke-width="0.9" fill="#fff"/>
<circle cx="255.0" cy="375.8" r="0.7" stroke="#333" stroke-width="0.5" fill="#444"/>
<circle cx="264.0" cy="372.8" r="0.7" stroke="#333" stroke-width="0.5" fill="#444"/>
<circle cx="310.6" cy="451.4" r="0.7" stroke="#333" stroke-width="0.5" fill="#444"/>
<circle cx="319.8" cy="448.6" r="0.7" stroke="#333" stroke-width="0.5" fill="#444"/>
<circle cx="341.0" cy="494.4" r="0.7" stroke="#333" stroke-width="0.5" fill="#444"/>
<circle cx="350.4" cy="491.6" r="0.7" stroke="#333" stroke-width="0.5" fill="#444"/>
<circle cx="376.0" cy="541.6" r="0.7" stroke="#333" stroke-width="0.5" fill="#444"/>
<circle cx="385.4" cy="538.8" r="0.7" stroke="#333" stroke-width="0.5" fill="#444"/>
<circle cx="405.2" cy="581.0" r="0.7" stroke="#333" stroke-width="0.5" fill="#444"/>
<circle cx="414.4" cy="578.4" r="0.7" stroke="#333" stroke-width="0.5" fill="#444"/>
<line x1="244.6" y1="374.6" x2="247.4" y2="378.4" stroke="#333" stroke-width="1.8" stroke-linecap="butt"/>
<path d="M290.4,431.6 L294.0,429.6 L296.8,433.8 L293.2,435.8 Z" stroke="#222" stroke-width="0.9" fill="#fff" stroke-linejoin="round"/>
<path d="M436.6,602.6 L428.6,611.4" stroke="#111" stroke-width="1.5" fill="none" stroke-linejoin="round"/>
<path d="M427.4,605.4 L421.4,612.2 L415.8,617.8 L407.0,630.6" stroke="#111" stroke-width="1.4" fill="none" stroke-linejoin="round"/>
<path d="M433.4,600.6 L425.0,609.6" stroke="#222" stroke-width="0.9" fill="none" stroke-linejoin="round"/>
<path d="M407.0,630.6 Q416.5,629.5 423.4,620.2" stroke="#222" stroke-width="1.1" fill="none" stroke-linejoin="round"/>
<path d="M421.4,612.2 L425.6,617.6" stroke="#222" stroke-width="0.9" fill="none" stroke-linejoin="round"/>
<path d="M415.8,617.8 L419.4,622.4" stroke="#222" stroke-width="0.9" fill="none" stroke-linejoin="round"/>
<circle cx="415.0" cy="604.4" r="1.9" stroke="#111" stroke-width="0.6" fill="#222"/>
<line x1="423.0" y1="613.0" x2="426.6" y2="616.8" stroke="#333" stroke-width="2.4" stroke-linecap="butt"/>
<path d="M418.6,615.4 L421.0,613.6 L423.0,616.4 L420.6,618.2 Z" stroke="#222" stroke-width="0.8" fill="#fff" stroke-linejoin="round"/>
<ellipse cx="436.4" cy="623.1" rx="7.74" ry="8.6" transform="rotate(0 436.4 623.1)" stroke="#111" stroke-width="1.2" fill="#fff"/>
<ellipse cx="433.0" cy="624.0" rx="7.74" ry="8.6" transform="rotate(0 433.0 624.0)" stroke="#111" stroke-width="2.0" fill="#fff"/>
<ellipse cx="433.7" cy="624.0" rx="4.816" ry="5.676" transform="rotate(0 433.7 624.0)" stroke="#111" stroke-width="1.0" fill="#222"/>
<ellipse cx="432.6" cy="624.0" rx="6.278" ry="7.137999999999999" transform="rotate(0 432.6 624.0)" stroke="#555" stroke-width="0.6" fill="none"/>
<circle cx="431.1" cy="624.3" r="1.2899999999999998" stroke="#fff" stroke-width="0.3" fill="#fff"/>
<circle cx="434.9" cy="624.0" r="0.946" stroke="#fff" stroke-width="0.3" fill="#eee"/>
<g transform="translate(442.8,608.8) rotate(155)"><path d="M2.23,-2.81 A3.60,3.60 0 1 0 2.23,2.81" fill="none" stroke="#1a1a1a" stroke-width="1.4" stroke-linecap="round"/><path d="M2.23,-2.81 L1.08,-1.15 M2.23,2.81 L1.08,1.15 M-3.60,0 L-1.98,0" fill="none" stroke="#1a1a1a" stroke-width="1.1" stroke-linecap="round"/></g>
<g transform="translate(453.6,605.2) rotate(155)"><path d="M2.23,-2.81 A3.60,3.60 0 1 0 2.23,2.81" fill="none" stroke="#1a1a1a" stroke-width="1.4" stroke-linecap="round"/><path d="M2.23,-2.81 L1.08,-1.15 M2.23,2.81 L1.08,1.15 M-3.60,0 L-1.98,0" fill="none" stroke="#1a1a1a" stroke-width="1.1" stroke-linecap="round"/></g>
<path d="M138.6,372.7 L163.1,405.9 L168.9,401.7 L144.4,368.5 A3.5,1.4 53.6 0 0 138.6,372.7 Z" stroke="#222" stroke-width="1.0" fill="#fff" stroke-linejoin="round"/>
<line x1="141.8" y1="370.4" x2="166.3" y2="403.6" stroke="#222" stroke-width="0.9" stroke-linecap="butt"/>
<circle cx="145.3" cy="378.1" r="0.5" stroke="#333" stroke-width="0.4" fill="#333"/>
<circle cx="158.7" cy="396.3" r="0.5" stroke="#333" stroke-width="0.4" fill="#333"/>
<path d="M164.1,407.3 L188.5,441.1 A3.5,1.4 54.2 0 0 194.3,436.9 L169.9,403.1 Z" stroke="#222" stroke-width="1.0" fill="#fff" stroke-linejoin="round"/>
<line x1="167.3" y1="405.0" x2="191.7" y2="438.8" stroke="#222" stroke-width="0.9" stroke-linecap="butt"/>
<circle cx="170.7" cy="412.8" r="0.5" stroke="#333" stroke-width="0.4" fill="#333"/>
<circle cx="184.2" cy="431.4" r="0.5" stroke="#333" stroke-width="0.4" fill="#333"/>
<line x1="163.0" y1="405.9" x2="169.2" y2="401.8" stroke="#222" stroke-width="1.0" stroke-linecap="butt"/>
<line x1="164.0" y1="407.3" x2="170.2" y2="403.2" stroke="#222" stroke-width="1.0" stroke-linecap="butt"/>
<ellipse cx="191.6" cy="439.6" rx="2.6" ry="1.5" transform="rotate(-35 191.6 439.6)" stroke="#333" stroke-width="0.8" fill="none"/>
<path d="M159.1,388.2 L165.7,386.2 A1.4,2.5 -16.9 0 0 164.3,381.4 L157.7,383.4" stroke="#222" stroke-width="0.9" fill="#fff" stroke-linejoin="round"/>
<ellipse cx="158.4" cy="385.8" rx="1.375" ry="2.5" transform="rotate(-16.858398767738294 158.4 385.8)" stroke="#222" stroke-width="0.9" fill="#fff"/>
<rect x="-3.6" y="-2.6" width="7.2" height="5.2" rx="1.2" transform="translate(170.0,382.6) rotate(-15)" fill="#111"/>
<path d="M174.5,367.4 L190.3,363.2 A0.7,1.2 -14.9 0 0 189.7,360.8 L173.9,365.0" stroke="#333" stroke-width="0.9" fill="#fff" stroke-linejoin="round"/>
<ellipse cx="174.2" cy="366.2" rx="0.72" ry="1.2" transform="rotate(-14.886266849017517 174.2 366.2)" stroke="#333" stroke-width="0.9" fill="#fff"/>
<path d="M191.9,365.3 L202.5,361.7 A1.9,3.5 -18.8 0 0 200.3,355.1 L189.7,358.7" stroke="#222" stroke-width="0.9" fill="#fff" stroke-linejoin="round"/>
<ellipse cx="190.8" cy="362.0" rx="1.9250000000000003" ry="3.5" transform="rotate(-18.758650347842355 190.8 362.0)" stroke="#222" stroke-width="0.9" fill="#fff"/>
<ellipse cx="190.8" cy="362.0" rx="0.8662500000000002" ry="1.575" transform="rotate(-18.758650347842355 190.8 362.0)" stroke="#222" stroke-width="0.7200000000000001" fill="#fff"/>
<line x1="159.7" y1="373.9" x2="163.5" y2="372.5" stroke="#1a1a1a" stroke-width="2.8" stroke-linecap="round"/>
<line x1="174.3" y1="392.7" x2="178.1" y2="391.3" stroke="#1a1a1a" stroke-width="2.8" stroke-linecap="round"/>
<line x1="199.3" y1="429.1" x2="203.1" y2="427.7" stroke="#1a1a1a" stroke-width="2.8" stroke-linecap="round"/>
<line x1="199.0" y1="393.6" x2="188.4" y2="396.6" stroke="#2a2a2a" stroke-width="1.7" stroke-linecap="round"/>
<line x1="202.2" y1="392.6" x2="199.0" y2="393.6" stroke="#1a1a1a" stroke-width="2.3" stroke-linecap="round"/>
<ellipse cx="199.3" cy="393.5" rx="1.0" ry="1.7" transform="rotate(163.95099520746663 199.3 393.5)" stroke="#1a1a1a" stroke-width="0.8" fill="#fff"/>
<line x1="189.2" y1="409.7" x2="194.6" y2="409.0" stroke="#2a2a2a" stroke-width="1.7" stroke-linecap="round"/>
<line x1="185.8" y1="410.1" x2="189.2" y2="409.7" stroke="#1a1a1a" stroke-width="2.3" stroke-linecap="round"/>
<ellipse cx="188.9" cy="409.7" rx="1.0" ry="1.7" transform="rotate(-7.1250163489017355 188.9 409.7)" stroke="#1a1a1a" stroke-width="0.8" fill="#fff"/>
<line x1="226.2" y1="478.1" x2="214.6" y2="482.0" stroke="#2a2a2a" stroke-width="1.7" stroke-linecap="round"/>
<line x1="229.4" y1="477.1" x2="226.2" y2="478.1" stroke="#1a1a1a" stroke-width="2.3" stroke-linecap="round"/>
<ellipse cx="226.5" cy="478.0" rx="1.0" ry="1.7" transform="rotate(161.565051177078 226.5 478.0)" stroke="#1a1a1a" stroke-width="0.8" fill="#fff"/>
<ellipse cx="265.4" cy="349.7" rx="8.46" ry="9.4" transform="rotate(0 265.4 349.7)" stroke="#111" stroke-width="1.2" fill="#fff"/>
<ellipse cx="261.6" cy="350.6" rx="8.46" ry="9.4" transform="rotate(0 261.6 350.6)" stroke="#111" stroke-width="2.0" fill="#fff"/>
<ellipse cx="262.4" cy="350.6" rx="5.264000000000001" ry="6.204000000000001" transform="rotate(0 262.4 350.6)" stroke="#111" stroke-width="1.0" fill="#222"/>
<ellipse cx="261.1" cy="350.6" rx="6.862" ry="7.802" transform="rotate(0 261.1 350.6)" stroke="#555" stroke-width="0.6" fill="none"/>
<circle cx="259.5" cy="350.9" r="1.41" stroke="#fff" stroke-width="0.3" fill="#fff"/>
<circle cx="263.7" cy="350.6" r="1.034" stroke="#fff" stroke-width="0.3" fill="#eee"/>
<g transform="translate(270.2,335.2) rotate(155)"><path d="M2.23,-2.81 A3.60,3.60 0 1 0 2.23,2.81" fill="none" stroke="#1a1a1a" stroke-width="1.4" stroke-linecap="round"/><path d="M2.23,-2.81 L1.08,-1.15 M2.23,2.81 L1.08,1.15 M-3.60,0 L-1.98,0" fill="none" stroke="#1a1a1a" stroke-width="1.1" stroke-linecap="round"/></g>
<g transform="translate(282.0,332.6) rotate(155)"><path d="M2.23,-2.81 A3.60,3.60 0 1 0 2.23,2.81" fill="none" stroke="#1a1a1a" stroke-width="1.4" stroke-linecap="round"/><path d="M2.23,-2.81 L1.08,-1.15 M2.23,2.81 L1.08,1.15 M-3.60,0 L-1.98,0" fill="none" stroke="#1a1a1a" stroke-width="1.1" stroke-linecap="round"/></g>
<path d="M277.3,358.1 L290.1,354.3 A1.7,3.0 -16.5 0 0 288.3,348.5 L275.5,352.3" stroke="#222" stroke-width="0.9" fill="#fff" stroke-linejoin="round"/>
<ellipse cx="276.4" cy="355.2" rx="1.6500000000000001" ry="3.0" transform="rotate(-16.534837857345188 276.4 355.2)" stroke="#222" stroke-width="0.9" fill="#fff"/>
<line x1="285.9" y1="365.0" x2="297.0" y2="362.4" stroke="#2a2a2a" stroke-width="1.7" stroke-linecap="round"/>
<line x1="282.6" y1="365.8" x2="285.9" y2="365.0" stroke="#1a1a1a" stroke-width="2.3" stroke-linecap="round"/>
<ellipse cx="285.6" cy="365.1" rx="1.0" ry="1.7" transform="rotate(-13.324531261890876 285.6 365.1)" stroke="#1a1a1a" stroke-width="0.8" fill="#fff"/>
<line x1="312.5" y1="319.9" x2="317.0" y2="319.0" stroke="#1a1a1a" stroke-width="2.5" stroke-linecap="round"/>
<ellipse cx="318.3" cy="318.7" rx="1.7" ry="2.4" transform="rotate(-12 318.3 318.7)" stroke="#1a1a1a" stroke-width="0.9" fill="#fff"/>
<line x1="332.3" y1="346.9" x2="336.8" y2="346.0" stroke="#1a1a1a" stroke-width="2.5" stroke-linecap="round"/>
<ellipse cx="338.1" cy="345.7" rx="1.7" ry="2.4" transform="rotate(-12 338.1 345.7)" stroke="#1a1a1a" stroke-width="0.9" fill="#fff"/>
<line x1="304.1" y1="371.7" x2="307.9" y2="370.7" stroke="#1a1a1a" stroke-width="2.8" stroke-linecap="round"/>
<line x1="318.5" y1="390.9" x2="322.3" y2="389.9" stroke="#1a1a1a" stroke-width="2.8" stroke-linecap="round"/>
<path d="M287.6,325.5 L313.6,359.7 L319.2,355.5 L293.2,321.3 Z" stroke="#1a1a1a" stroke-width="1.0" fill="#fff" stroke-linejoin="round"/>
<line x1="290.5" y1="323.3" x2="316.5" y2="357.5" stroke="#222" stroke-width="0.9" stroke-linecap="butt"/>
<line x1="291.6" y1="327.9" x2="302.0" y2="341.6" stroke="#2a2a2a" stroke-width="2.2" stroke-linecap="butt"/>
<line x1="291.6" y1="327.9" x2="302.0" y2="341.6" stroke="#aaa" stroke-width="0.6" stroke-linecap="butt"/>
<line x1="303.3" y1="343.3" x2="311.8" y2="354.6" stroke="#2a2a2a" stroke-width="2.2" stroke-linecap="butt"/>
<line x1="303.3" y1="343.3" x2="311.8" y2="354.6" stroke="#aaa" stroke-width="0.6" stroke-linecap="butt"/>
<circle cx="290.0" cy="325.8" r="0.8" stroke="#222" stroke-width="0.6" fill="none"/>
<circle cx="313.7" cy="356.9" r="0.8" stroke="#222" stroke-width="0.6" fill="none"/>
<path d="M313.8,362.1 L338.6,394.7 A1.6,3.5 52.7 0 0 344.2,390.5 L319.4,357.9 A1.6,3.5 52.7 0 0 313.8,362.1 Z" stroke="#1a1a1a" stroke-width="1.1" fill="#fff" stroke-linejoin="round"/>
<line x1="317.0" y1="359.7" x2="341.8" y2="392.3" stroke="#333" stroke-width="0.8" stroke-linecap="butt"/>
<ellipse cx="317.9" cy="364.2" rx="1.15" ry="0.85" transform="rotate(52.73843808714397 317.9 364.2)" stroke="#222" stroke-width="0.8" fill="none"/>
<ellipse cx="322.9" cy="370.7" rx="1.15" ry="0.85" transform="rotate(52.73843808714397 322.9 370.7)" stroke="#222" stroke-width="0.8" fill="none"/>
<ellipse cx="327.8" cy="377.2" rx="1.15" ry="0.85" transform="rotate(52.73843808714397 327.8 377.2)" stroke="#222" stroke-width="0.8" fill="none"/>
<ellipse cx="332.8" cy="383.7" rx="1.15" ry="0.85" transform="rotate(52.73843808714397 332.8 383.7)" stroke="#222" stroke-width="0.8" fill="none"/>
<ellipse cx="337.8" cy="390.2" rx="1.15" ry="0.85" transform="rotate(52.73843808714397 337.8 390.2)" stroke="#222" stroke-width="0.8" fill="none"/>
<line x1="313.0" y1="359.4" x2="320.6" y2="355.2" stroke="#222" stroke-width="1.0" stroke-linecap="butt"/>
<line x1="379.1" y1="429.0" x2="390.0" y2="426.4" stroke="#2a2a2a" stroke-width="1.7" stroke-linecap="round"/>
<line x1="375.8" y1="429.8" x2="379.1" y2="429.0" stroke="#1a1a1a" stroke-width="2.3" stroke-linecap="round"/>
<ellipse cx="378.8" cy="429.1" rx="1.0" ry="1.7" transform="rotate(-13.495733280795895 378.8 429.1)" stroke="#1a1a1a" stroke-width="0.8" fill="#fff"/>
<line x1="410.1" y1="472.5" x2="421.0" y2="469.6" stroke="#2a2a2a" stroke-width="1.7" stroke-linecap="round"/>
<line x1="406.8" y1="473.4" x2="410.1" y2="472.5" stroke="#1a1a1a" stroke-width="2.3" stroke-linecap="round"/>
<ellipse cx="409.8" cy="472.6" rx="1.0" ry="1.7" transform="rotate(-14.931417178137554 409.8 472.6)" stroke="#1a1a1a" stroke-width="0.8" fill="#fff"/>
<line x1="446.1" y1="520.3" x2="457.2" y2="518.0" stroke="#2a2a2a" stroke-width="1.7" stroke-linecap="round"/>
<line x1="442.8" y1="521.0" x2="446.1" y2="520.3" stroke="#1a1a1a" stroke-width="2.3" stroke-linecap="round"/>
<ellipse cx="445.8" cy="520.4" rx="1.0" ry="1.7" transform="rotate(-11.88865803962815 445.8 520.4)" stroke="#1a1a1a" stroke-width="0.8" fill="#fff"/>
<line x1="480.9" y1="569.1" x2="492.0" y2="566.8" stroke="#2a2a2a" stroke-width="1.7" stroke-linecap="round"/>
<line x1="477.6" y1="569.8" x2="480.9" y2="569.1" stroke="#1a1a1a" stroke-width="2.3" stroke-linecap="round"/>
<ellipse cx="480.6" cy="569.2" rx="1.0" ry="1.7" transform="rotate(-11.88865803962815 480.6 569.2)" stroke="#1a1a1a" stroke-width="0.8" fill="#fff"/>
<line x1="470.8" y1="623.7" x2="481.2" y2="620.8" stroke="#2a2a2a" stroke-width="1.7" stroke-linecap="round"/>
<line x1="467.6" y1="624.6" x2="470.8" y2="623.7" stroke="#1a1a1a" stroke-width="2.3" stroke-linecap="round"/>
<ellipse cx="470.6" cy="623.8" rx="1.0" ry="1.7" transform="rotate(-15.524110996754283 470.6 623.8)" stroke="#1a1a1a" stroke-width="0.8" fill="#fff"/>
<line x1="422.3" y1="638.9" x2="412.0" y2="641.6" stroke="#2a2a2a" stroke-width="1.7" stroke-linecap="round"/>
<line x1="425.6" y1="638.0" x2="422.3" y2="638.9" stroke="#1a1a1a" stroke-width="2.3" stroke-linecap="round"/>
<ellipse cx="422.6" cy="638.8" rx="1.0" ry="1.7" transform="rotate(165.21727395738407 422.6 638.8)" stroke="#1a1a1a" stroke-width="0.8" fill="#fff"/>
<line x1="327.9" y1="618.2" x2="317.2" y2="620.8" stroke="#2a2a2a" stroke-width="1.7" stroke-linecap="round"/>
<line x1="331.2" y1="617.4" x2="327.9" y2="618.2" stroke="#1a1a1a" stroke-width="2.3" stroke-linecap="round"/>
<ellipse cx="328.2" cy="618.1" rx="1.0" ry="1.7" transform="rotate(166.32869286780453 328.2 618.1)" stroke="#1a1a1a" stroke-width="0.8" fill="#fff"/>
<line x1="256.9" y1="521.9" x2="246.0" y2="524.4" stroke="#2a2a2a" stroke-width="1.7" stroke-linecap="round"/>
<line x1="260.2" y1="521.2" x2="256.9" y2="521.9" stroke="#1a1a1a" stroke-width="2.3" stroke-linecap="round"/>
<ellipse cx="257.2" cy="521.9" rx="1.0" ry="1.7" transform="rotate(167.22875743509863 257.2 521.9)" stroke="#1a1a1a" stroke-width="0.8" fill="#fff"/>
<line x1="291.9" y1="569.8" x2="282.0" y2="572.4" stroke="#2a2a2a" stroke-width="1.7" stroke-linecap="round"/>
<line x1="295.2" y1="569.0" x2="291.9" y2="569.8" stroke="#1a1a1a" stroke-width="2.3" stroke-linecap="round"/>
<ellipse cx="292.2" cy="569.8" rx="1.0" ry="1.7" transform="rotate(165.57922687248893 292.2 569.8)" stroke="#1a1a1a" stroke-width="0.8" fill="#fff"/>
<line x1="567.9" y1="438.1" x2="555.0" y2="441.6" stroke="#2a2a2a" stroke-width="1.7" stroke-linecap="round"/>
<line x1="571.2" y1="437.2" x2="567.9" y2="438.1" stroke="#1a1a1a" stroke-width="2.3" stroke-linecap="round"/>
<ellipse cx="568.2" cy="438.0" rx="1.0" ry="1.7" transform="rotate(164.85901616492305 568.2 438.0)" stroke="#1a1a1a" stroke-width="0.8" fill="#fff"/>
<rect x="-4.0" y="-2.9" width="8.0" height="5.8" rx="1.2" transform="translate(452.6,567.4) rotate(-25)" fill="#111"/>
<line x1="448.4" y1="561.6" x2="451.0" y2="565.0" stroke="#111" stroke-width="1.4" stroke-linecap="butt"/>
<path d="M431.6,572.6 Q430.8,568.6 435.8,567.4 L447.8,579.8 L452.4,583.4 L458.8,589.8 Q460.8,593.6 458.4,597.4 Q455.6,599.6 452.8,597.6 L451.4,593.0 L446.4,590.2 L433.2,577.6 Z" stroke="#1a1a1a" stroke-width="1.2" fill="#fff" stroke-linejoin="round"/>
<path d="M433.6,571.6 Q434.2,569.6 436.0,569.6" stroke="#222" stroke-width="1.0" fill="none" stroke-linejoin="round"/>
<path d="M433.8,574.0 L446.6,586.2" stroke="#333" stroke-width="0.9" fill="none" stroke-linejoin="round"/>
<path d="M447.8,579.8 L444.6,585.0 L446.4,590.2" stroke="#1a1a1a" stroke-width="1.0" fill="none" stroke-linejoin="round"/>
<path d="M452.4,583.4 L448.6,588.6 L451.4,593.0" stroke="#1a1a1a" stroke-width="1.2" fill="none" stroke-linejoin="round"/>
<path d="M449.8,581.6 L446.4,586.6" stroke="#333" stroke-width="0.9" fill="none" stroke-linejoin="round"/>
<path d="M455.4,586.6 L452.6,590.6" stroke="#222" stroke-width="1.0" fill="none" stroke-linejoin="round"/>
<ellipse cx="455.2" cy="596.4" rx="1.6" ry="1.9" transform="rotate(0 455.2 596.4)" stroke="#1a1a1a" stroke-width="1.1" fill="#fff"/>
<path d="M454.0,552.4 L461.0,546.0 L464.6,545.4" stroke="#222" stroke-width="1.6" fill="none" stroke-linejoin="round"/>
<path d="M454.6,551.8 L461.0,546.2" stroke="#fff" stroke-width="0.6" fill="none" stroke-linejoin="round"/>
<ellipse cx="464.2" cy="546.4" rx="1.3" ry="1.6" transform="rotate(0 464.2 546.4)" stroke="#222" stroke-width="0.8" fill="#fff"/>
<path d="M377.4,619.2 L389.4,615.8 A1.6,2.9 -15.8 0 0 387.8,610.2 L375.8,613.6" stroke="#222" stroke-width="0.9" fill="#fff" stroke-linejoin="round"/>
<ellipse cx="376.6" cy="616.4" rx="1.595" ry="2.9" transform="rotate(-15.819193947500043 376.6 616.4)" stroke="#222" stroke-width="0.9" fill="#fff"/>
<path d="M374.5,628.1 L386.9,624.9 A0.7,1.1 -14.5 0 0 386.3,622.7 L373.9,625.9" stroke="#333" stroke-width="0.9" fill="#fff" stroke-linejoin="round"/>
<ellipse cx="374.2" cy="627.0" rx="0.66" ry="1.1" transform="rotate(-14.470294100066047 374.2 627.0)" stroke="#333" stroke-width="0.9" fill="#fff"/>
<path d="M427.0,652.8 Q431.5,646.0 437.0,641.6 Q441.5,637.6 444.6,634.4 L447.2,632.8 L452.4,631.2 L452.6,633.4 L451.6,637.0 L450.2,640.2 L447.4,641.4 L445.0,645.0 L441.6,648.0 Q440.0,645.6 437.6,646.8 Q432.0,648.6 427.0,652.8 Z" stroke="#1a1a1a" stroke-width="1.1" fill="#fff" stroke-linejoin="round"/>
<line x1="427.0" y1="652.8" x2="429.2" y2="650.6" stroke="#111" stroke-width="1.8" stroke-linecap="round"/>
<circle cx="441.4" cy="648.0" r="0.9" stroke="#111" stroke-width="0.5" fill="#111"/>
<ellipse cx="445.8" cy="632.0" rx="1.6" ry="1.6" transform="rotate(0 445.8 632.0)" stroke="#1a1a1a" stroke-width="1.2" fill="#444"/>
<ellipse cx="452.6" cy="629.4" rx="1.8" ry="1.8" transform="rotate(0 452.6 629.4)" stroke="#1a1a1a" stroke-width="1.3" fill="#444"/>
<path d="M445.8,632.0 Q449.5,633.2 452.6,629.4" stroke="#1a1a1a" stroke-width="1.0" fill="none" stroke-linejoin="round"/>
<path d="M437.6,668.8 Q438.6,663.2 444.4,661.2 Q449.4,659.6 451.6,660.8 L459.2,671.8 L445.2,680.4 Z" stroke="#222" stroke-width="1.0" fill="#fff" stroke-linejoin="round"/>
<path d="M440.6,671.8 Q446.5,671.5 454.2,664.2" stroke="#1a1a1a" stroke-width="2.0" fill="none" stroke-linejoin="round"/>
<path d="M441.6,673.6 Q447.5,673.2 455.2,666.0" stroke="#333" stroke-width="0.8" fill="none" stroke-linejoin="round"/>
<ellipse cx="452.2" cy="676.0" rx="7.6" ry="3.7" transform="rotate(-31 452.2 676.0)" stroke="#111" stroke-width="1.9" fill="#fff"/>
<ellipse cx="452.4" cy="676.2" rx="5.4" ry="2.2" transform="rotate(-31 452.4 676.2)" stroke="#333" stroke-width="0.8" fill="#fff"/>
<circle cx="459.6" cy="677.6" r="0.9" stroke="#111" stroke-width="0.4" fill="#111"/>
<path d="M632.4,407.2 L603.4,415.8 L579.5,443.6 L583.0,443.3 L588.2,441.4 L591.2,435.8 L596.0,431.0 L601.2,428.0 L605.5,422.3 L612.5,419.7 L615.5,419.7 L608.6,431.4 L604.7,432.7 L601.6,436.6 L604.7,436.8 L611.6,434.0 L615.9,428.8 L619.4,424.5 L632.4,407.2 Z" stroke="#fff" stroke-width="0.1" fill="#fff" stroke-linejoin="round"/>
<path d="M579.5,443.6 L583.0,443.3 L588.2,441.4 L591.2,435.8 L596.0,431.0 L601.2,428.0 L605.5,422.3 L612.5,419.7 L615.5,419.7 L608.6,431.4 L604.7,432.7 L601.6,436.6 L604.7,436.8 L611.6,434.0 L615.9,428.8 L619.4,424.5 L632.4,407.2" stroke="#1a1a1a" stroke-width="1.05" fill="none" stroke-linejoin="round"/>
<path d="M632.4,407.2 L603.4,415.8 L579.5,443.6" stroke="#111" stroke-width="1.7" fill="none" stroke-linejoin="round"/>
<circle cx="622.2" cy="415.3" r="0.6" stroke="#222" stroke-width="0.4" fill="#222"/>
<circle cx="612.8" cy="418.3" r="0.6" stroke="#222" stroke-width="0.4" fill="#222"/>
<circle cx="602.8" cy="421.5" r="0.6" stroke="#222" stroke-width="0.4" fill="#222"/>
<circle cx="599.8" cy="425.3" r="0.6" stroke="#222" stroke-width="0.4" fill="#222"/>
<circle cx="590.2" cy="433.1" r="0.6" stroke="#222" stroke-width="0.4" fill="#222"/>
<circle cx="618.8" cy="420.1" r="0.6" stroke="#222" stroke-width="0.4" fill="#222"/>
<circle cx="590.6" cy="438.5" r="0.6" stroke="#222" stroke-width="0.4" fill="#222"/>
<path d="M657.2,441.1 L628.2,449.7 L604.3,477.5 L607.8,477.2 L613.0,475.3 L616.0,469.7 L620.8,464.9 L626.0,461.9 L630.3,456.2 L637.3,453.6 L640.3,453.6 L638.1,457.5 L634.7,460.1 L636.4,461.0 L633.4,465.3 L629.5,466.6 L626.4,470.5 L629.5,470.7 L636.4,467.9 L640.7,462.7 L644.2,458.4 L657.2,441.1 Z" stroke="#fff" stroke-width="0.1" fill="#fff" stroke-linejoin="round"/>
<path d="M604.3,477.5 L607.8,477.2 L613.0,475.3 L616.0,469.7 L620.8,464.9 L626.0,461.9 L630.3,456.2 L637.3,453.6 L640.3,453.6 L638.1,457.5 L634.7,460.1 L636.4,461.0 L633.4,465.3 L629.5,466.6 L626.4,470.5 L629.5,470.7 L636.4,467.9 L640.7,462.7 L644.2,458.4 L657.2,441.1" stroke="#1a1a1a" stroke-width="1.05" fill="none" stroke-linejoin="round"/>
<path d="M657.2,441.1 L628.2,449.7 L604.3,477.5" stroke="#111" stroke-width="1.7" fill="none" stroke-linejoin="round"/>
<circle cx="647.0" cy="449.2" r="0.6" stroke="#222" stroke-width="0.4" fill="#222"/>
<circle cx="637.6" cy="452.2" r="0.6" stroke="#222" stroke-width="0.4" fill="#222"/>
<circle cx="627.6" cy="455.4" r="0.6" stroke="#222" stroke-width="0.4" fill="#222"/>
<circle cx="624.6" cy="459.2" r="0.6" stroke="#222" stroke-width="0.4" fill="#222"/>
<circle cx="615.0" cy="467.0" r="0.6" stroke="#222" stroke-width="0.4" fill="#222"/>
<circle cx="643.6" cy="454.0" r="0.6" stroke="#222" stroke-width="0.4" fill="#222"/>
<circle cx="615.4" cy="472.4" r="0.6" stroke="#222" stroke-width="0.4" fill="#222"/>
<path d="M682.0,474.2 L653.0,482.8 L629.1,510.6 L632.6,510.3 L637.8,508.4 L640.8,502.8 L645.6,498.0 L650.8,495.0 L655.1,489.3 L662.1,486.7 L665.1,486.7 L658.2,498.4 L654.3,499.7 L651.2,503.6 L654.3,503.8 L661.2,501.0 L665.5,495.8 L669.0,491.5 L682.0,474.2 Z" stroke="#fff" stroke-width="0.1" fill="#fff" stroke-linejoin="round"/>
<path d="M629.1,510.6 L632.6,510.3 L637.8,508.4 L640.8,502.8 L645.6,498.0 L650.8,495.0 L655.1,489.3 L662.1,486.7 L665.1,486.7 L658.2,498.4 L654.3,499.7 L651.2,503.6 L654.3,503.8 L661.2,501.0 L665.5,495.8 L669.0,491.5 L682.0,474.2" stroke="#1a1a1a" stroke-width="1.05" fill="none" stroke-linejoin="round"/>
<path d="M682.0,474.2 L653.0,482.8 L629.1,510.6" stroke="#111" stroke-width="1.7" fill="none" stroke-linejoin="round"/>
<circle cx="671.8" cy="482.3" r="0.6" stroke="#222" stroke-width="0.4" fill="#222"/>
<circle cx="662.4" cy="485.3" r="0.6" stroke="#222" stroke-width="0.4" fill="#222"/>
<circle cx="652.4" cy="488.5" r="0.6" stroke="#222" stroke-width="0.4" fill="#222"/>
<circle cx="649.4" cy="492.3" r="0.6" stroke="#222" stroke-width="0.4" fill="#222"/>
<circle cx="639.8" cy="500.1" r="0.6" stroke="#222" stroke-width="0.4" fill="#222"/>
<circle cx="668.4" cy="487.1" r="0.6" stroke="#222" stroke-width="0.4" fill="#222"/>
<circle cx="640.2" cy="505.5" r="0.6" stroke="#222" stroke-width="0.4" fill="#222"/>
<ellipse cx="615.0" cy="408.8" rx="1.9" ry="1.6" transform="rotate(0 615.0 408.8)" stroke="#222" stroke-width="1.1" fill="#fff"/>
<circle cx="615.0" cy="408.8" r="0.6" stroke="#333" stroke-width="0.4" fill="#333"/>
<ellipse cx="622.2" cy="406.4" rx="1.9" ry="1.6" transform="rotate(0 622.2 406.4)" stroke="#222" stroke-width="1.1" fill="#fff"/>
<circle cx="622.2" cy="406.4" r="0.6" stroke="#333" stroke-width="0.4" fill="#333"/>
<ellipse cx="592.6" cy="424.8" rx="1.9" ry="1.6" transform="rotate(0 592.6 424.8)" stroke="#222" stroke-width="1.1" fill="#fff"/>
<circle cx="592.6" cy="424.8" r="0.6" stroke="#333" stroke-width="0.4" fill="#333"/>
<ellipse cx="614.4" cy="420.6" rx="2.2" ry="1.8" transform="rotate(0 614.4 420.6)" stroke="#222" stroke-width="1.2" fill="#fff"/>
<line x1="612.6" y1="422.6" x2="617.6" y2="418.6" stroke="#222" stroke-width="1.0" stroke-linecap="butt"/>
<ellipse cx="667.6" cy="489.6" rx="1.7" ry="1.5" transform="rotate(0 667.6 489.6)" stroke="#222" stroke-width="1.0" fill="#fff"/>
<line x1="595.5" y1="420.1" x2="584.6" y2="423.0" stroke="#2a2a2a" stroke-width="1.7" stroke-linecap="round"/>
<line x1="598.8" y1="419.2" x2="595.5" y2="420.1" stroke="#1a1a1a" stroke-width="2.3" stroke-linecap="round"/>
<ellipse cx="595.8" cy="420.0" rx="1.0" ry="1.7" transform="rotate(165.06858282186246 595.8 420.0)" stroke="#1a1a1a" stroke-width="0.8" fill="#fff"/>
<line x1="642.7" y1="409.4" x2="656.4" y2="403.8" stroke="#2a2a2a" stroke-width="1.7" stroke-linecap="round"/>
<line x1="639.5" y1="410.7" x2="642.7" y2="409.4" stroke="#1a1a1a" stroke-width="2.3" stroke-linecap="round"/>
<ellipse cx="642.4" cy="409.5" rx="1.0" ry="1.7" transform="rotate(-22.24902365721231 642.4 409.5)" stroke="#1a1a1a" stroke-width="0.8" fill="#fff"/>
<line x1="648.5" y1="402.0" x2="658.8" y2="399.4" stroke="#2a2a2a" stroke-width="1.7" stroke-linecap="round"/>
<line x1="645.2" y1="402.8" x2="648.5" y2="402.0" stroke="#1a1a1a" stroke-width="2.3" stroke-linecap="round"/>
<ellipse cx="648.2" cy="402.1" rx="1.0" ry="1.7" transform="rotate(-14.036243467926585 648.2 402.1)" stroke="#1a1a1a" stroke-width="0.8" fill="#fff"/>
<line x1="655.3" y1="541.9" x2="663.3" y2="553.0" stroke="#222" stroke-width="1.6" stroke-linecap="round"/>
<line x1="653.1" y1="538.8" x2="655.3" y2="541.9" stroke="#1a1a1a" stroke-width="2.6" stroke-linecap="round"/>
<line x1="653.4" y1="539.3" x2="654.6" y2="540.9" stroke="#eee" stroke-width="0.9" stroke-linecap="round"/>
<ellipse cx="655.3" cy="541.9" rx="0.9" ry="1.7" transform="rotate(54.20506257919462 655.3 541.9)" stroke="#1a1a1a" stroke-width="0.7" fill="#1a1a1a"/>
<line x1="663.2" y1="531.6" x2="671.3" y2="543.0" stroke="#222" stroke-width="1.6" stroke-linecap="round"/>
<line x1="661.0" y1="528.5" x2="663.2" y2="531.6" stroke="#1a1a1a" stroke-width="2.6" stroke-linecap="round"/>
<line x1="661.4" y1="529.0" x2="662.5" y2="530.6" stroke="#eee" stroke-width="0.9" stroke-linecap="round"/>
<ellipse cx="663.2" cy="531.6" rx="0.9" ry="1.7" transform="rotate(54.75242494165401 663.2 531.6)" stroke="#1a1a1a" stroke-width="0.7" fill="#1a1a1a"/>
<line x1="672.8" y1="523.7" x2="690.0" y2="544.3" stroke="#222" stroke-width="1.6" stroke-linecap="round"/>
<line x1="670.4" y1="520.8" x2="672.8" y2="523.7" stroke="#1a1a1a" stroke-width="2.6" stroke-linecap="round"/>
<line x1="670.8" y1="521.2" x2="672.0" y2="522.8" stroke="#eee" stroke-width="0.9" stroke-linecap="round"/>
<ellipse cx="672.8" cy="523.7" rx="0.9" ry="1.7" transform="rotate(50.19442890773481 672.8 523.7)" stroke="#1a1a1a" stroke-width="0.7" fill="#1a1a1a"/>
<line x1="675.8" y1="519.9" x2="682.7" y2="529.7" stroke="#222" stroke-width="1.6" stroke-linecap="round"/>
<line x1="673.6" y1="516.8" x2="675.8" y2="519.9" stroke="#1a1a1a" stroke-width="2.6" stroke-linecap="round"/>
<line x1="674.0" y1="517.3" x2="675.1" y2="518.9" stroke="#eee" stroke-width="0.9" stroke-linecap="round"/>
<ellipse cx="675.8" cy="519.9" rx="0.9" ry="1.7" transform="rotate(54.95062668795153 675.8 519.9)" stroke="#1a1a1a" stroke-width="0.7" fill="#1a1a1a"/>
<line x1="685.3" y1="516.6" x2="693.3" y2="527.7" stroke="#222" stroke-width="1.6" stroke-linecap="round"/>
<line x1="683.1" y1="513.5" x2="685.3" y2="516.6" stroke="#1a1a1a" stroke-width="2.6" stroke-linecap="round"/>
<line x1="683.4" y1="514.0" x2="684.6" y2="515.6" stroke="#eee" stroke-width="0.9" stroke-linecap="round"/>
<ellipse cx="685.3" cy="516.6" rx="0.9" ry="1.7" transform="rotate(54.20506257919462 685.3 516.6)" stroke="#1a1a1a" stroke-width="0.7" fill="#1a1a1a"/>
<line x1="691.2" y1="518.6" x2="700.0" y2="531.7" stroke="#222" stroke-width="1.6" stroke-linecap="round"/>
<line x1="689.0" y1="515.5" x2="691.2" y2="518.6" stroke="#1a1a1a" stroke-width="2.6" stroke-linecap="round"/>
<line x1="689.4" y1="516.0" x2="690.5" y2="517.7" stroke="#eee" stroke-width="0.9" stroke-linecap="round"/>
<ellipse cx="691.2" cy="518.6" rx="0.9" ry="1.7" transform="rotate(55.915882431693255 691.2 518.6)" stroke="#1a1a1a" stroke-width="0.7" fill="#1a1a1a"/>
<line x1="694.6" y1="513.9" x2="702.7" y2="525.0" stroke="#222" stroke-width="1.6" stroke-linecap="round"/>
<line x1="692.4" y1="510.8" x2="694.6" y2="513.9" stroke="#1a1a1a" stroke-width="2.6" stroke-linecap="round"/>
<line x1="692.7" y1="511.3" x2="693.9" y2="512.9" stroke="#eee" stroke-width="0.9" stroke-linecap="round"/>
<ellipse cx="694.6" cy="513.9" rx="0.9" ry="1.7" transform="rotate(53.94945808420874 694.6 513.9)" stroke="#1a1a1a" stroke-width="0.7" fill="#1a1a1a"/>
<path d="M678.6,529.6 L681.0,528.0 L684.0,532.4 L681.6,534.0 Z" stroke="#222" stroke-width="1.0" fill="#fff" stroke-linejoin="round"/>
<path d="M75.0,645.0 L81.2,647.0 L74.2,649.4" stroke="#222" stroke-width="1.0" fill="none" stroke-linejoin="round"/>
<circle cx="74.2" cy="649.4" r="0.8" stroke="#222" stroke-width="0.4" fill="#222"/>
</svg>
</body></html>
